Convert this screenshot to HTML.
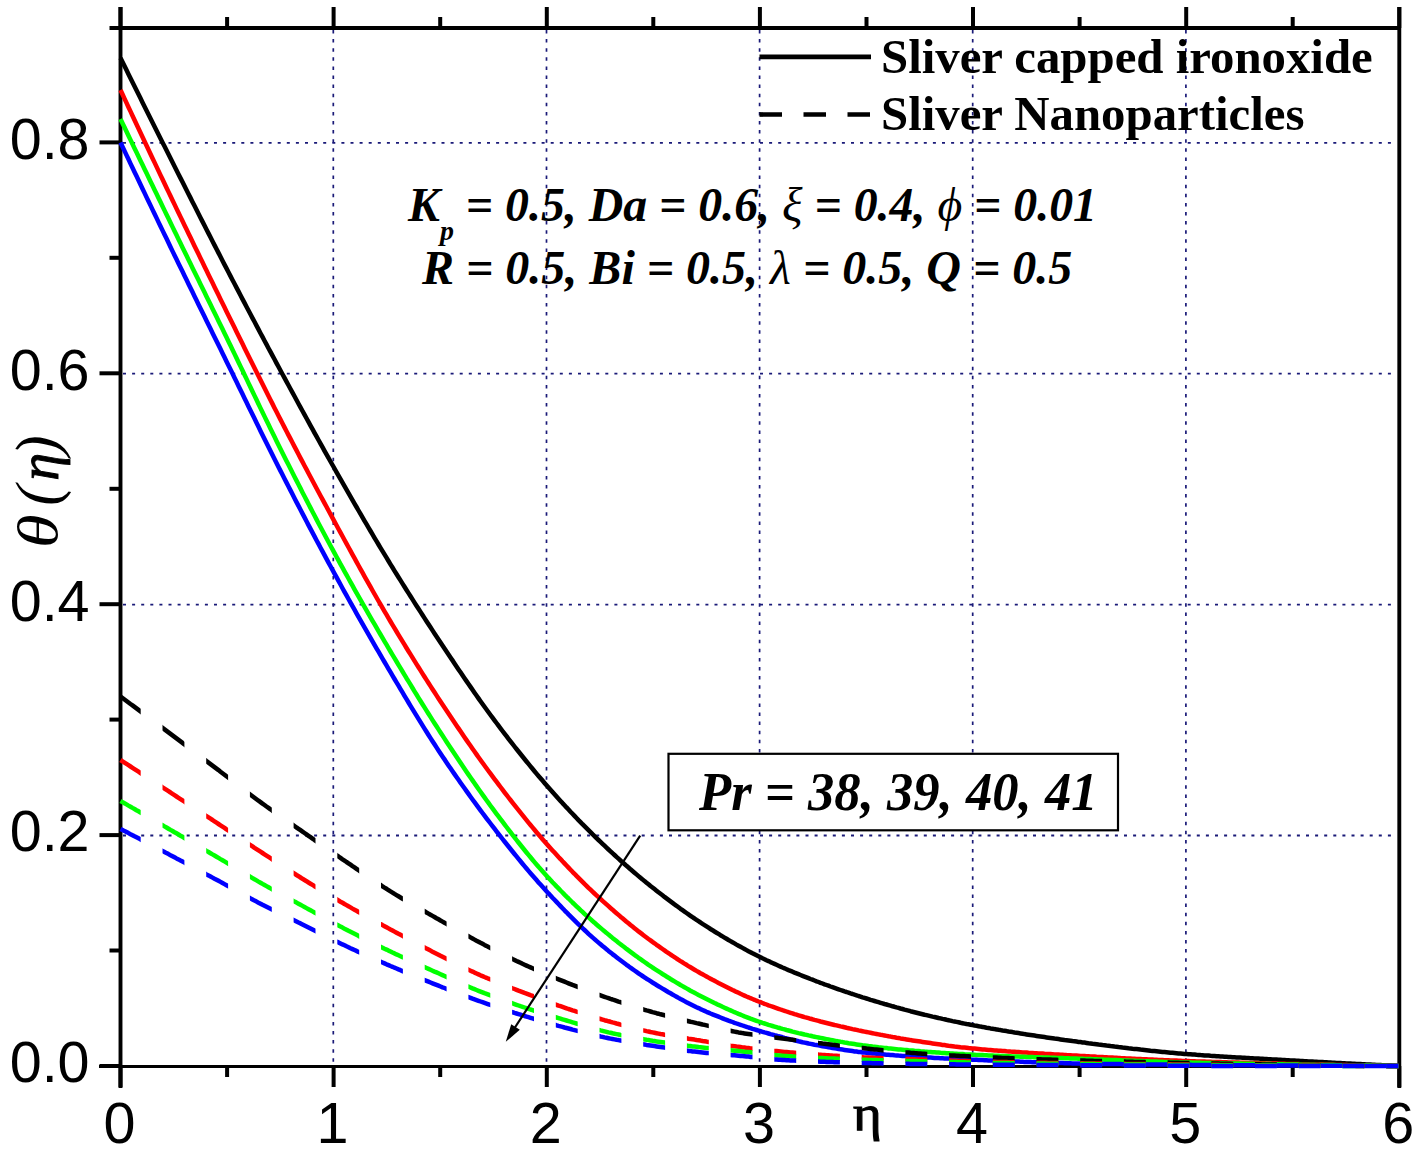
<!DOCTYPE html>
<html><head><meta charset="utf-8"><style>
html,body{margin:0;padding:0;background:#fff;}
svg{display:block;}
.sans{font-family:"Liberation Sans",sans-serif;}
.serif{font-family:"Liberation Serif",serif;}
</style></head><body>
<svg width="1426" height="1153" viewBox="0 0 1426 1153">
<rect width="1426" height="1153" fill="#fff"/>
<g stroke="#1a1a78" fill="none"><line x1="333.3" y1="30" x2="333.3" y2="1064" stroke-width="1.7" stroke-dasharray="3.5 5.6"/><line x1="546.5" y1="30" x2="546.5" y2="1064" stroke-width="1.7" stroke-dasharray="3.5 5.6"/><line x1="759.6" y1="30" x2="759.6" y2="1064" stroke-width="1.7" stroke-dasharray="3.5 5.6"/><line x1="972.7" y1="30" x2="972.7" y2="1064" stroke-width="1.7" stroke-dasharray="3.5 5.6"/><line x1="1185.9" y1="30" x2="1185.9" y2="1064" stroke-width="1.7" stroke-dasharray="3.5 5.6"/><line x1="123" y1="835.5" x2="1397" y2="835.5" stroke-width="1.8" stroke-dasharray="3 6.1"/><line x1="123" y1="604.6" x2="1397" y2="604.6" stroke-width="1.8" stroke-dasharray="3 6.1"/><line x1="123" y1="373.7" x2="1397" y2="373.7" stroke-width="1.8" stroke-dasharray="3 6.1"/><line x1="123" y1="142.8" x2="1397" y2="142.8" stroke-width="1.8" stroke-dasharray="3 6.1"/></g>
<g stroke="#000" stroke-width="3.9" fill="none">
<line x1="120.5" y1="28" x2="1399.3" y2="28"/>
<line x1="120.5" y1="7" x2="120.5" y2="1088"/>
<line x1="1399.3" y1="7" x2="1399.3" y2="1088"/>
</g>
<line x1="99" y1="1066.6" x2="1399.3" y2="1066.6" stroke="#000" stroke-width="3"/>
<g stroke="#000" stroke-width="4" fill="none">
<line x1="120.5" y1="1066.0" x2="120.5" y2="1087.0"/><line x1="120.5" y1="28" x2="120.5" y2="7"/><line x1="227.1" y1="1066.0" x2="227.1" y2="1077.0"/><line x1="227.1" y1="28" x2="227.1" y2="17"/><line x1="333.6" y1="1066.0" x2="333.6" y2="1087.0"/><line x1="333.6" y1="28" x2="333.6" y2="7"/><line x1="440.2" y1="1066.0" x2="440.2" y2="1077.0"/><line x1="440.2" y1="28" x2="440.2" y2="17"/><line x1="546.8" y1="1066.0" x2="546.8" y2="1087.0"/><line x1="546.8" y1="28" x2="546.8" y2="7"/><line x1="653.3" y1="1066.0" x2="653.3" y2="1077.0"/><line x1="653.3" y1="28" x2="653.3" y2="17"/><line x1="759.9" y1="1066.0" x2="759.9" y2="1087.0"/><line x1="759.9" y1="28" x2="759.9" y2="7"/><line x1="866.5" y1="1066.0" x2="866.5" y2="1077.0"/><line x1="866.5" y1="28" x2="866.5" y2="17"/><line x1="973.0" y1="1066.0" x2="973.0" y2="1087.0"/><line x1="973.0" y1="28" x2="973.0" y2="7"/><line x1="1079.6" y1="1066.0" x2="1079.6" y2="1077.0"/><line x1="1079.6" y1="28" x2="1079.6" y2="17"/><line x1="1186.2" y1="1066.0" x2="1186.2" y2="1087.0"/><line x1="1186.2" y1="28" x2="1186.2" y2="7"/><line x1="1292.7" y1="1066.0" x2="1292.7" y2="1077.0"/><line x1="1292.7" y1="28" x2="1292.7" y2="17"/><line x1="1399.3" y1="1066.0" x2="1399.3" y2="1087.0"/><line x1="1399.3" y1="28" x2="1399.3" y2="7"/><line x1="120.5" y1="1066.0" x2="99.5" y2="1066.0"/><line x1="120.5" y1="950.5" x2="109.5" y2="950.5"/><line x1="120.5" y1="835.1" x2="99.5" y2="835.1"/><line x1="120.5" y1="719.6" x2="109.5" y2="719.6"/><line x1="120.5" y1="604.2" x2="99.5" y2="604.2"/><line x1="120.5" y1="488.8" x2="109.5" y2="488.8"/><line x1="120.5" y1="373.3" x2="99.5" y2="373.3"/><line x1="120.5" y1="257.8" x2="109.5" y2="257.8"/><line x1="120.5" y1="142.4" x2="99.5" y2="142.4"/><line x1="120.5" y1="28.0" x2="109.5" y2="28.0"/>
</g>
<g fill="none" stroke-width="4.5" stroke-linejoin="round"><g stroke="#000000"><polyline points="120.5,58.0 122.5,62.0 124.5,66.1 126.5,70.1 128.5,74.2 130.5,78.2 132.5,82.2 134.5,86.3 136.5,90.3 138.5,94.3 140.5,98.3 142.5,102.4 144.5,106.4 146.5,110.4 148.5,114.4 150.5,118.4 152.5,122.4 154.5,126.4 156.5,130.4 158.5,134.4 160.5,138.4 162.5,142.4 164.5,146.3 166.5,150.3 168.5,154.3 170.5,158.3 172.5,162.3 174.5,166.2 176.5,170.2 178.5,174.2 180.5,178.1 182.5,182.1 184.5,186.1 186.5,190.0 188.5,194.0 190.5,197.9 192.5,201.9 194.5,205.8 196.5,209.8 198.5,213.7 200.5,217.7 202.5,221.6 204.5,225.6 206.5,229.5 208.5,233.4 210.5,237.3 212.5,241.2 214.5,245.1 216.5,249.0 218.5,252.9 220.5,256.8 222.5,260.7 224.5,264.6 226.5,268.4 228.5,272.3 230.5,276.1 232.5,280.0 234.5,283.8 236.5,287.6 238.5,291.4 240.5,295.3 242.5,299.1 244.5,302.9 246.5,306.7 248.5,310.5 250.5,314.3 252.5,318.1 254.5,321.8 256.5,325.6 258.5,329.4 260.5,333.2 262.5,336.9 264.5,340.7 266.5,344.4 268.5,348.2 270.5,351.9 272.5,355.6 274.5,359.3 276.5,363.1 278.5,366.8 280.5,370.5 282.5,374.2 284.5,377.9 286.5,381.6 288.5,385.3 290.5,389.0 292.5,392.6 294.5,396.3 296.5,400.0 298.5,403.7 300.5,407.3 302.5,411.0 304.5,414.6 306.5,418.3 308.5,421.9 310.5,425.6 312.5,429.2 314.5,432.8 316.5,436.4 318.5,440.0 320.5,443.6 322.5,447.2 324.5,450.8 326.5,454.4 328.5,457.9 330.5,461.5 332.5,465.0 334.5,468.5 336.5,472.1 338.5,475.6 340.5,479.1 342.5,482.6 344.5,486.1 346.5,489.6 348.5,493.1 350.5,496.6 352.5,500.1 354.5,503.6 356.5,507.0 358.5,510.5 360.5,513.9 362.5,517.4 364.5,520.8 366.5,524.2 368.5,527.6 370.5,531.0 372.5,534.4 374.5,537.8 376.5,541.1 378.5,544.5 380.5,547.8 382.5,551.1 384.5,554.4 386.5,557.7 388.5,561.0 390.5,564.3 392.5,567.5 394.5,570.8 396.5,574.0 398.5,577.2 400.5,580.4 402.5,583.6 404.5,586.8 406.5,590.0 408.5,593.1 410.5,596.3 412.5,599.4 414.5,602.6 416.5,605.7 418.5,608.8 420.5,611.9 422.5,615.0 424.5,618.1 426.5,621.2 428.5,624.3 430.5,627.3 432.5,630.4 434.5,633.4 436.5,636.4 438.5,639.4 440.5,642.5 442.5,645.5 444.5,648.5 446.5,651.5 448.5,654.5 450.5,657.5 452.5,660.4 454.5,663.4 456.5,666.4 458.5,669.4 460.5,672.3 462.5,675.3 464.5,678.2 466.5,681.1 468.5,684.0 470.5,686.9 472.5,689.8 474.5,692.7 476.5,695.5 478.5,698.4 480.5,701.2 482.5,704.0 484.5,706.8 486.5,709.5 488.5,712.3 490.5,715.0 492.5,717.7 494.5,720.4 496.5,723.0 498.5,725.7 500.5,728.3 502.5,731.0 504.5,733.6 506.5,736.2 508.5,738.8 510.5,741.4 512.5,743.9 514.5,746.5 516.5,749.0 518.5,751.5 520.5,754.0 522.5,756.5 524.5,759.0 526.5,761.5 528.5,763.9 530.5,766.4 532.5,768.8 534.5,771.2 536.5,773.6 538.5,775.9 540.5,778.3 542.5,780.6 544.5,782.9 546.5,785.2 548.5,787.5 550.5,789.7 552.5,792.0 554.5,794.2 556.5,796.5 558.5,798.7 560.5,800.9 562.5,803.1 564.5,805.2 566.5,807.4 568.5,809.5 570.5,811.7 572.5,813.8 574.5,815.9 576.5,818.0 578.5,820.1 580.5,822.1 582.5,824.2 584.5,826.2 586.5,828.2 588.5,830.2 590.5,832.2 592.5,834.2 594.5,836.1 596.5,838.1 598.5,840.0 600.5,841.9 602.5,843.8 604.5,845.7 606.5,847.6 608.5,849.5 610.5,851.3 612.5,853.2 614.5,855.0 616.5,856.9 618.5,858.7 620.5,860.5 622.5,862.3 624.5,864.0 626.5,865.8 628.5,867.5 630.5,869.3 632.5,871.0 634.5,872.7 636.5,874.4 638.5,876.1 640.5,877.8 642.5,879.4 644.5,881.1 646.5,882.7 648.5,884.3 650.5,886.0 652.5,887.5 654.5,889.1 656.5,890.7 658.5,892.3 660.5,893.8 662.5,895.3 664.5,896.9 666.5,898.4 668.5,899.9 670.5,901.4 672.5,902.9 674.5,904.4 676.5,905.8 678.5,907.3 680.5,908.8 682.5,910.2 684.5,911.6 686.5,913.0 688.5,914.4 690.5,915.8 692.5,917.2 694.5,918.5 696.5,919.9 698.5,921.2 700.5,922.5 702.5,923.9 704.5,925.1 706.5,926.4 708.5,927.7 710.5,929.0 712.5,930.2 714.5,931.5 716.5,932.7 718.5,933.9 720.5,935.2 722.5,936.4 724.5,937.6 726.5,938.8 728.5,940.0 730.5,941.1 732.5,942.3 734.5,943.4 736.5,944.6 738.5,945.7 740.5,946.8 742.5,947.9 744.5,949.0 746.5,950.1 748.5,951.2 750.5,952.2 752.5,953.3 754.5,954.3 756.5,955.3 758.5,956.3 760.5,957.3 762.5,958.3 764.5,959.2 766.5,960.2 768.5,961.1 770.5,962.1 772.5,963.0 774.5,963.9 776.5,964.8 778.5,965.7 780.5,966.6 782.5,967.5 784.5,968.3 786.5,969.2 788.5,970.1 790.5,970.9 792.5,971.7 794.5,972.6 796.5,973.4 798.5,974.2 800.5,975.0 802.5,975.8 804.5,976.6 806.5,977.4 808.5,978.2 810.5,979.0 812.5,979.7 814.5,980.5 816.5,981.3 818.5,982.0 820.5,982.8 822.5,983.5 824.5,984.3 826.5,985.0 828.5,985.7 830.5,986.5 832.5,987.2 834.5,987.9 836.5,988.6 838.5,989.3 840.5,990.0 842.5,990.7 844.5,991.4 846.5,992.0 848.5,992.7 850.5,993.4 852.5,994.0 854.5,994.7 856.5,995.3 858.5,996.0 860.5,996.6 862.5,997.3 864.5,997.9 866.5,998.5 868.5,999.1 870.5,999.8 872.5,1000.4 874.5,1001.0 876.5,1001.6 878.5,1002.2 880.5,1002.8 882.5,1003.4 884.5,1004.0 886.5,1004.5 888.5,1005.1 890.5,1005.7 892.5,1006.3 894.5,1006.8 896.5,1007.4 898.5,1007.9 900.5,1008.5 902.5,1009.0 904.5,1009.6 906.5,1010.1 908.5,1010.6 910.5,1011.2 912.5,1011.7 914.5,1012.2 916.5,1012.7 918.5,1013.2 920.5,1013.7 922.5,1014.2 924.5,1014.7 926.5,1015.1 928.5,1015.6 930.5,1016.1 932.5,1016.6 934.5,1017.0 936.5,1017.5 938.5,1018.0 940.5,1018.4 942.5,1018.9 944.5,1019.3 946.5,1019.8 948.5,1020.2 950.5,1020.6 952.5,1021.1 954.5,1021.5 956.5,1021.9 958.5,1022.3 960.5,1022.8 962.5,1023.2 964.5,1023.6 966.5,1024.0 968.5,1024.3 970.5,1024.7 972.5,1025.1 974.5,1025.5 976.5,1025.8 978.5,1026.2 980.5,1026.6 982.5,1026.9 984.5,1027.3 986.5,1027.7 988.5,1028.0 990.5,1028.4 992.5,1028.7 994.5,1029.1 996.5,1029.4 998.5,1029.8 1000.5,1030.1 1002.5,1030.5 1004.5,1030.8 1006.5,1031.1 1008.5,1031.5 1010.5,1031.8 1012.5,1032.1 1014.5,1032.5 1016.5,1032.8 1018.5,1033.1 1020.5,1033.4 1022.5,1033.7 1024.5,1034.1 1026.5,1034.4 1028.5,1034.7 1030.5,1035.0 1032.5,1035.3 1034.5,1035.6 1036.5,1035.9 1038.5,1036.2 1040.5,1036.5 1042.5,1036.8 1044.5,1037.1 1046.5,1037.4 1048.5,1037.7 1050.5,1038.0 1052.5,1038.3 1054.5,1038.6 1056.5,1038.8 1058.5,1039.1 1060.5,1039.4 1062.5,1039.7 1064.5,1040.0 1066.5,1040.2 1068.5,1040.5 1070.5,1040.8 1072.5,1041.1 1074.5,1041.3 1076.5,1041.6 1078.5,1041.9 1080.5,1042.1 1082.5,1042.4 1084.5,1042.6 1086.5,1042.9 1088.5,1043.2 1090.5,1043.4 1092.5,1043.7 1094.5,1043.9 1096.5,1044.2 1098.5,1044.5 1100.5,1044.7 1102.5,1045.0 1104.5,1045.2 1106.5,1045.5 1108.5,1045.7 1110.5,1046.0 1112.5,1046.2 1114.5,1046.5 1116.5,1046.7 1118.5,1047.0 1120.5,1047.2 1122.5,1047.5 1124.5,1047.7 1126.5,1047.9 1128.5,1048.2 1130.5,1048.4 1132.5,1048.7 1134.5,1048.9 1136.5,1049.1 1138.5,1049.3 1140.5,1049.6 1142.5,1049.8 1144.5,1050.0 1146.5,1050.2 1148.5,1050.4 1150.5,1050.7 1152.5,1050.9 1154.5,1051.1 1156.5,1051.3 1158.5,1051.5 1160.5,1051.7 1162.5,1051.9 1164.5,1052.1 1166.5,1052.3 1168.5,1052.5 1170.5,1052.7 1172.5,1052.8 1174.5,1053.0 1176.5,1053.2 1178.5,1053.4 1180.5,1053.5 1182.5,1053.7 1184.5,1053.9 1186.5,1054.0 1188.5,1054.2 1190.5,1054.3 1192.5,1054.5 1194.5,1054.6 1196.5,1054.8 1198.5,1054.9 1200.5,1055.1 1202.5,1055.2 1204.5,1055.4 1206.5,1055.5 1208.5,1055.6 1210.5,1055.8 1212.5,1055.9 1214.5,1056.0 1216.5,1056.2 1218.5,1056.3 1220.5,1056.4 1222.5,1056.5 1224.5,1056.7 1226.5,1056.8 1228.5,1056.9 1230.5,1057.0 1232.5,1057.2 1234.5,1057.3 1236.5,1057.4 1238.5,1057.5 1240.5,1057.6 1242.5,1057.7 1244.5,1057.8 1246.5,1058.0 1248.5,1058.1 1250.5,1058.2 1252.5,1058.3 1254.5,1058.4 1256.5,1058.5 1258.5,1058.6 1260.5,1058.7 1262.5,1058.8 1264.5,1059.0 1266.5,1059.1 1268.5,1059.2 1270.5,1059.3 1272.5,1059.4 1274.5,1059.5 1276.5,1059.6 1278.5,1059.7 1280.5,1059.8 1282.5,1059.9 1284.5,1060.0 1286.5,1060.2 1288.5,1060.3 1290.5,1060.4 1292.5,1060.5 1294.5,1060.6 1296.5,1060.7 1298.5,1060.8 1300.5,1060.9 1302.5,1061.0 1304.5,1061.2 1306.5,1061.3 1308.5,1061.4 1310.5,1061.5 1312.5,1061.6 1314.5,1061.7 1316.5,1061.8 1318.5,1061.9 1320.5,1062.0 1322.5,1062.1 1324.5,1062.2 1326.5,1062.3 1328.5,1062.5 1330.5,1062.6 1332.5,1062.7 1334.5,1062.8 1336.5,1062.9 1338.5,1063.0 1340.5,1063.1 1342.5,1063.2 1344.5,1063.3 1346.5,1063.4 1348.5,1063.5 1350.5,1063.6 1352.5,1063.7 1354.5,1063.8 1356.5,1063.9 1358.5,1064.0 1360.5,1064.1 1362.5,1064.2 1364.5,1064.3 1366.5,1064.4 1368.5,1064.5 1370.5,1064.6 1372.5,1064.7 1374.5,1064.8 1376.5,1064.9 1378.5,1065.0 1380.5,1065.1 1382.5,1065.2 1384.5,1065.3 1386.5,1065.4 1388.5,1065.5 1390.5,1065.6 1392.5,1065.7 1394.5,1065.8 1396.5,1065.9 1398.5,1066.0"/></g><g stroke="#ff0000"><polyline points="120.5,90.0 122.5,94.3 124.5,98.6 126.5,102.9 128.5,107.2 130.5,111.4 132.5,115.7 134.5,120.0 136.5,124.3 138.5,128.5 140.5,132.8 142.5,137.0 144.5,141.3 146.5,145.5 148.5,149.7 150.5,154.0 152.5,158.2 154.5,162.4 156.5,166.6 158.5,170.9 160.5,175.1 162.5,179.3 164.5,183.5 166.5,187.7 168.5,191.9 170.5,196.0 172.5,200.2 174.5,204.4 176.5,208.6 178.5,212.7 180.5,216.9 182.5,221.0 184.5,225.2 186.5,229.3 188.5,233.5 190.5,237.6 192.5,241.8 194.5,245.9 196.5,250.0 198.5,254.1 200.5,258.2 202.5,262.3 204.5,266.5 206.5,270.6 208.5,274.7 210.5,278.7 212.5,282.8 214.5,286.9 216.5,291.0 218.5,295.1 220.5,299.2 222.5,303.2 224.5,307.3 226.5,311.4 228.5,315.4 230.5,319.5 232.5,323.5 234.5,327.6 236.5,331.7 238.5,335.7 240.5,339.8 242.5,343.8 244.5,347.9 246.5,351.9 248.5,356.0 250.5,360.0 252.5,364.0 254.5,368.1 256.5,372.1 258.5,376.1 260.5,380.1 262.5,384.1 264.5,388.1 266.5,392.1 268.5,396.0 270.5,400.0 272.5,403.9 274.5,407.9 276.5,411.8 278.5,415.7 280.5,419.6 282.5,423.5 284.5,427.4 286.5,431.2 288.5,435.1 290.5,438.9 292.5,442.8 294.5,446.6 296.5,450.4 298.5,454.3 300.5,458.1 302.5,461.9 304.5,465.7 306.5,469.4 308.5,473.2 310.5,477.0 312.5,480.7 314.5,484.5 316.5,488.2 318.5,492.0 320.5,495.7 322.5,499.4 324.5,503.1 326.5,506.8 328.5,510.5 330.5,514.2 332.5,517.9 334.5,521.6 336.5,525.3 338.5,529.0 340.5,532.6 342.5,536.3 344.5,540.0 346.5,543.6 348.5,547.3 350.5,550.9 352.5,554.6 354.5,558.2 356.5,561.9 358.5,565.5 360.5,569.1 362.5,572.7 364.5,576.3 366.5,579.8 368.5,583.4 370.5,586.9 372.5,590.5 374.5,594.0 376.5,597.5 378.5,601.0 380.5,604.4 382.5,607.9 384.5,611.3 386.5,614.7 388.5,618.1 390.5,621.5 392.5,624.8 394.5,628.2 396.5,631.5 398.5,634.8 400.5,638.1 402.5,641.4 404.5,644.7 406.5,648.0 408.5,651.2 410.5,654.4 412.5,657.7 414.5,660.9 416.5,664.1 418.5,667.3 420.5,670.4 422.5,673.6 424.5,676.8 426.5,679.9 428.5,683.0 430.5,686.1 432.5,689.2 434.5,692.3 436.5,695.4 438.5,698.4 440.5,701.5 442.5,704.5 444.5,707.5 446.5,710.5 448.5,713.5 450.5,716.5 452.5,719.5 454.5,722.5 456.5,725.5 458.5,728.4 460.5,731.3 462.5,734.3 464.5,737.2 466.5,740.1 468.5,743.0 470.5,745.8 472.5,748.7 474.5,751.5 476.5,754.4 478.5,757.2 480.5,760.0 482.5,762.8 484.5,765.5 486.5,768.3 488.5,771.0 490.5,773.7 492.5,776.4 494.5,779.1 496.5,781.7 498.5,784.4 500.5,787.0 502.5,789.6 504.5,792.3 506.5,794.9 508.5,797.5 510.5,800.0 512.5,802.6 514.5,805.2 516.5,807.7 518.5,810.2 520.5,812.7 522.5,815.2 524.5,817.7 526.5,820.2 528.5,822.6 530.5,825.0 532.5,827.4 534.5,829.8 536.5,832.2 538.5,834.5 540.5,836.9 542.5,839.2 544.5,841.4 546.5,843.7 548.5,846.0 550.5,848.2 552.5,850.4 554.5,852.6 556.5,854.8 558.5,857.0 560.5,859.1 562.5,861.3 564.5,863.4 566.5,865.5 568.5,867.6 570.5,869.7 572.5,871.8 574.5,873.8 576.5,875.9 578.5,877.9 580.5,879.9 582.5,881.9 584.5,883.9 586.5,885.8 588.5,887.8 590.5,889.7 592.5,891.6 594.5,893.5 596.5,895.3 598.5,897.2 600.5,899.0 602.5,900.8 604.5,902.6 606.5,904.4 608.5,906.2 610.5,908.0 612.5,909.7 614.5,911.5 616.5,913.2 618.5,914.9 620.5,916.7 622.5,918.3 624.5,920.0 626.5,921.7 628.5,923.3 630.5,925.0 632.5,926.6 634.5,928.2 636.5,929.8 638.5,931.4 640.5,932.9 642.5,934.4 644.5,936.0 646.5,937.5 648.5,939.0 650.5,940.4 652.5,941.9 654.5,943.3 656.5,944.8 658.5,946.2 660.5,947.6 662.5,949.0 664.5,950.4 666.5,951.8 668.5,953.1 670.5,954.5 672.5,955.8 674.5,957.1 676.5,958.5 678.5,959.8 680.5,961.1 682.5,962.3 684.5,963.6 686.5,964.8 688.5,966.1 690.5,967.3 692.5,968.5 694.5,969.7 696.5,970.9 698.5,972.0 700.5,973.2 702.5,974.3 704.5,975.4 706.5,976.5 708.5,977.6 710.5,978.7 712.5,979.8 714.5,980.8 716.5,981.9 718.5,983.0 720.5,984.0 722.5,985.0 724.5,986.0 726.5,987.0 728.5,988.0 730.5,989.0 732.5,990.0 734.5,990.9 736.5,991.9 738.5,992.8 740.5,993.8 742.5,994.7 744.5,995.6 746.5,996.5 748.5,997.3 750.5,998.2 752.5,999.0 754.5,999.8 756.5,1000.7 758.5,1001.5 760.5,1002.2 762.5,1003.0 764.5,1003.8 766.5,1004.5 768.5,1005.3 770.5,1006.0 772.5,1006.7 774.5,1007.4 776.5,1008.1 778.5,1008.8 780.5,1009.5 782.5,1010.2 784.5,1010.8 786.5,1011.5 788.5,1012.2 790.5,1012.8 792.5,1013.4 794.5,1014.1 796.5,1014.7 798.5,1015.3 800.5,1015.9 802.5,1016.5 804.5,1017.1 806.5,1017.6 808.5,1018.2 810.5,1018.8 812.5,1019.3 814.5,1019.9 816.5,1020.4 818.5,1020.9 820.5,1021.5 822.5,1022.0 824.5,1022.5 826.5,1023.0 828.5,1023.5 830.5,1024.0 832.5,1024.5 834.5,1025.0 836.5,1025.4 838.5,1025.9 840.5,1026.4 842.5,1026.8 844.5,1027.3 846.5,1027.8 848.5,1028.2 850.5,1028.6 852.5,1029.1 854.5,1029.5 856.5,1029.9 858.5,1030.4 860.5,1030.8 862.5,1031.2 864.5,1031.6 866.5,1032.0 868.5,1032.4 870.5,1032.8 872.5,1033.2 874.5,1033.6 876.5,1034.0 878.5,1034.4 880.5,1034.8 882.5,1035.1 884.5,1035.5 886.5,1035.9 888.5,1036.3 890.5,1036.6 892.5,1037.0 894.5,1037.3 896.5,1037.7 898.5,1038.0 900.5,1038.4 902.5,1038.7 904.5,1039.1 906.5,1039.4 908.5,1039.7 910.5,1040.1 912.5,1040.4 914.5,1040.7 916.5,1041.0 918.5,1041.3 920.5,1041.6 922.5,1041.9 924.5,1042.2 926.5,1042.5 928.5,1042.8 930.5,1043.1 932.5,1043.4 934.5,1043.7 936.5,1044.0 938.5,1044.3 940.5,1044.6 942.5,1044.9 944.5,1045.1 946.5,1045.4 948.5,1045.7 950.5,1045.9 952.5,1046.2 954.5,1046.5 956.5,1046.7 958.5,1046.9 960.5,1047.2 962.5,1047.4 964.5,1047.6 966.5,1047.8 968.5,1048.1 970.5,1048.3 972.5,1048.5 974.5,1048.6 976.5,1048.8 978.5,1049.0 980.5,1049.2 982.5,1049.4 984.5,1049.5 986.5,1049.7 988.5,1049.9 990.5,1050.0 992.5,1050.2 994.5,1050.4 996.5,1050.5 998.5,1050.7 1000.5,1050.8 1002.5,1051.0 1004.5,1051.1 1006.5,1051.3 1008.5,1051.4 1010.5,1051.6 1012.5,1051.7 1014.5,1051.8 1016.5,1052.0 1018.5,1052.1 1020.5,1052.2 1022.5,1052.4 1024.5,1052.5 1026.5,1052.6 1028.5,1052.8 1030.5,1052.9 1032.5,1053.0 1034.5,1053.2 1036.5,1053.3 1038.5,1053.4 1040.5,1053.5 1042.5,1053.6 1044.5,1053.8 1046.5,1053.9 1048.5,1054.0 1050.5,1054.1 1052.5,1054.2 1054.5,1054.4 1056.5,1054.5 1058.5,1054.6 1060.5,1054.7 1062.5,1054.8 1064.5,1054.9 1066.5,1055.1 1068.5,1055.2 1070.5,1055.3 1072.5,1055.4 1074.5,1055.5 1076.5,1055.6 1078.5,1055.7 1080.5,1055.9 1082.5,1056.0 1084.5,1056.1 1086.5,1056.2 1088.5,1056.3 1090.5,1056.4 1092.5,1056.5 1094.5,1056.6 1096.5,1056.8 1098.5,1056.9 1100.5,1057.0 1102.5,1057.1 1104.5,1057.2 1106.5,1057.3 1108.5,1057.4 1110.5,1057.5 1112.5,1057.6 1114.5,1057.7 1116.5,1057.8 1118.5,1057.9 1120.5,1058.1 1122.5,1058.2 1124.5,1058.3 1126.5,1058.4 1128.5,1058.5 1130.5,1058.6 1132.5,1058.7 1134.5,1058.8 1136.5,1058.9 1138.5,1059.0 1140.5,1059.1 1142.5,1059.2 1144.5,1059.3 1146.5,1059.3 1148.5,1059.4 1150.5,1059.5 1152.5,1059.6 1154.5,1059.7 1156.5,1059.8 1158.5,1059.9 1160.5,1060.0 1162.5,1060.1 1164.5,1060.2 1166.5,1060.2 1168.5,1060.3 1170.5,1060.4 1172.5,1060.5 1174.5,1060.6 1176.5,1060.6 1178.5,1060.7 1180.5,1060.8 1182.5,1060.9 1184.5,1060.9 1186.5,1061.0 1188.5,1061.1 1190.5,1061.2 1192.5,1061.2 1194.5,1061.3 1196.5,1061.4 1198.5,1061.4 1200.5,1061.5 1202.5,1061.6 1204.5,1061.6 1206.5,1061.7 1208.5,1061.8 1210.5,1061.8 1212.5,1061.9 1214.5,1061.9 1216.5,1062.0 1218.5,1062.1 1220.5,1062.1 1222.5,1062.2 1224.5,1062.2 1226.5,1062.3 1228.5,1062.4 1230.5,1062.4 1232.5,1062.5 1234.5,1062.5 1236.5,1062.6 1238.5,1062.6 1240.5,1062.7 1242.5,1062.8 1244.5,1062.8 1246.5,1062.9 1248.5,1062.9 1250.5,1063.0 1252.5,1063.0 1254.5,1063.1 1256.5,1063.1 1258.5,1063.2 1260.5,1063.2 1262.5,1063.3 1264.5,1063.3 1266.5,1063.4 1268.5,1063.4 1270.5,1063.5 1272.5,1063.5 1274.5,1063.6 1276.5,1063.6 1278.5,1063.7 1280.5,1063.7 1282.5,1063.8 1284.5,1063.8 1286.5,1063.9 1288.5,1063.9 1290.5,1063.9 1292.5,1064.0 1294.5,1064.0 1296.5,1064.1 1298.5,1064.1 1300.5,1064.2 1302.5,1064.2 1304.5,1064.3 1306.5,1064.3 1308.5,1064.3 1310.5,1064.4 1312.5,1064.4 1314.5,1064.5 1316.5,1064.5 1318.5,1064.6 1320.5,1064.6 1322.5,1064.6 1324.5,1064.7 1326.5,1064.7 1328.5,1064.8 1330.5,1064.8 1332.5,1064.8 1334.5,1064.9 1336.5,1064.9 1338.5,1065.0 1340.5,1065.0 1342.5,1065.0 1344.5,1065.1 1346.5,1065.1 1348.5,1065.2 1350.5,1065.2 1352.5,1065.2 1354.5,1065.3 1356.5,1065.3 1358.5,1065.3 1360.5,1065.4 1362.5,1065.4 1364.5,1065.5 1366.5,1065.5 1368.5,1065.5 1370.5,1065.6 1372.5,1065.6 1374.5,1065.6 1376.5,1065.7 1378.5,1065.7 1380.5,1065.7 1382.5,1065.7 1384.5,1065.8 1386.5,1065.8 1388.5,1065.8 1390.5,1065.9 1392.5,1065.9 1394.5,1065.9 1396.5,1066.0 1398.5,1066.0"/></g><g stroke="#00ff00"><polyline points="120.5,119.0 122.5,123.2 124.5,127.3 126.5,131.5 128.5,135.7 130.5,139.9 132.5,144.0 134.5,148.2 136.5,152.3 138.5,156.5 140.5,160.7 142.5,164.8 144.5,169.0 146.5,173.1 148.5,177.3 150.5,181.4 152.5,185.5 154.5,189.7 156.5,193.8 158.5,198.0 160.5,202.1 162.5,206.2 164.5,210.4 166.5,214.5 168.5,218.6 170.5,222.7 172.5,226.9 174.5,231.0 176.5,235.1 178.5,239.2 180.5,243.3 182.5,247.4 184.5,251.5 186.5,255.6 188.5,259.7 190.5,263.8 192.5,267.9 194.5,271.9 196.5,276.0 198.5,280.1 200.5,284.2 202.5,288.3 204.5,292.3 206.5,296.4 208.5,300.5 210.5,304.6 212.5,308.7 214.5,312.8 216.5,316.8 218.5,320.9 220.5,325.0 222.5,329.1 224.5,333.2 226.5,337.3 228.5,341.5 230.5,345.6 232.5,349.7 234.5,353.9 236.5,358.0 238.5,362.2 240.5,366.4 242.5,370.5 244.5,374.7 246.5,378.9 248.5,383.1 250.5,387.3 252.5,391.4 254.5,395.6 256.5,399.8 258.5,403.9 260.5,408.1 262.5,412.2 264.5,416.4 266.5,420.5 268.5,424.6 270.5,428.7 272.5,432.8 274.5,436.8 276.5,440.9 278.5,444.9 280.5,448.9 282.5,452.9 284.5,456.9 286.5,460.9 288.5,464.8 290.5,468.8 292.5,472.7 294.5,476.7 296.5,480.6 298.5,484.5 300.5,488.4 302.5,492.4 304.5,496.2 306.5,500.1 308.5,504.0 310.5,507.9 312.5,511.7 314.5,515.5 316.5,519.4 318.5,523.2 320.5,527.0 322.5,530.7 324.5,534.5 326.5,538.3 328.5,542.0 330.5,545.7 332.5,549.4 334.5,553.1 336.5,556.8 338.5,560.4 340.5,564.1 342.5,567.7 344.5,571.3 346.5,574.9 348.5,578.5 350.5,582.1 352.5,585.7 354.5,589.3 356.5,592.8 358.5,596.3 360.5,599.9 362.5,603.4 364.5,606.9 366.5,610.4 368.5,613.8 370.5,617.3 372.5,620.8 374.5,624.2 376.5,627.7 378.5,631.1 380.5,634.5 382.5,637.9 384.5,641.3 386.5,644.7 388.5,648.1 390.5,651.5 392.5,654.8 394.5,658.2 396.5,661.5 398.5,664.9 400.5,668.2 402.5,671.5 404.5,674.8 406.5,678.2 408.5,681.4 410.5,684.7 412.5,688.0 414.5,691.3 416.5,694.5 418.5,697.8 420.5,701.0 422.5,704.2 424.5,707.4 426.5,710.6 428.5,713.8 430.5,716.9 432.5,720.1 434.5,723.2 436.5,726.3 438.5,729.4 440.5,732.5 442.5,735.5 444.5,738.6 446.5,741.7 448.5,744.7 450.5,747.7 452.5,750.8 454.5,753.8 456.5,756.8 458.5,759.8 460.5,762.8 462.5,765.7 464.5,768.7 466.5,771.7 468.5,774.6 470.5,777.5 472.5,780.4 474.5,783.3 476.5,786.1 478.5,789.0 480.5,791.8 482.5,794.6 484.5,797.4 486.5,800.2 488.5,802.9 490.5,805.7 492.5,808.4 494.5,811.1 496.5,813.8 498.5,816.4 500.5,819.1 502.5,821.7 504.5,824.4 506.5,827.0 508.5,829.6 510.5,832.2 512.5,834.8 514.5,837.4 516.5,840.0 518.5,842.5 520.5,845.0 522.5,847.5 524.5,850.0 526.5,852.5 528.5,854.9 530.5,857.3 532.5,859.7 534.5,862.1 536.5,864.4 538.5,866.8 540.5,869.0 542.5,871.3 544.5,873.5 546.5,875.7 548.5,877.9 550.5,880.0 552.5,882.2 554.5,884.3 556.5,886.4 558.5,888.4 560.5,890.5 562.5,892.5 564.5,894.6 566.5,896.6 568.5,898.5 570.5,900.5 572.5,902.5 574.5,904.4 576.5,906.3 578.5,908.2 580.5,910.1 582.5,911.9 584.5,913.8 586.5,915.6 588.5,917.4 590.5,919.2 592.5,921.0 594.5,922.7 596.5,924.5 598.5,926.2 600.5,927.9 602.5,929.6 604.5,931.3 606.5,932.9 608.5,934.6 610.5,936.2 612.5,937.9 614.5,939.5 616.5,941.1 618.5,942.7 620.5,944.2 622.5,945.8 624.5,947.3 626.5,948.9 628.5,950.4 630.5,951.9 632.5,953.4 634.5,954.9 636.5,956.3 638.5,957.8 640.5,959.2 642.5,960.6 644.5,962.0 646.5,963.4 648.5,964.8 650.5,966.1 652.5,967.5 654.5,968.8 656.5,970.1 658.5,971.4 660.5,972.7 662.5,974.0 664.5,975.2 666.5,976.5 668.5,977.7 670.5,979.0 672.5,980.2 674.5,981.4 676.5,982.6 678.5,983.8 680.5,985.0 682.5,986.1 684.5,987.3 686.5,988.4 688.5,989.5 690.5,990.7 692.5,991.8 694.5,992.8 696.5,993.9 698.5,995.0 700.5,996.0 702.5,997.0 704.5,998.0 706.5,999.0 708.5,1000.0 710.5,1001.0 712.5,1002.0 714.5,1003.0 716.5,1003.9 718.5,1004.9 720.5,1005.8 722.5,1006.8 724.5,1007.7 726.5,1008.6 728.5,1009.5 730.5,1010.4 732.5,1011.3 734.5,1012.2 736.5,1013.0 738.5,1013.9 740.5,1014.7 742.5,1015.5 744.5,1016.4 746.5,1017.1 748.5,1017.9 750.5,1018.7 752.5,1019.4 754.5,1020.1 756.5,1020.8 758.5,1021.5 760.5,1022.2 762.5,1022.9 764.5,1023.5 766.5,1024.1 768.5,1024.8 770.5,1025.4 772.5,1026.0 774.5,1026.6 776.5,1027.2 778.5,1027.8 780.5,1028.3 782.5,1028.9 784.5,1029.4 786.5,1030.0 788.5,1030.5 790.5,1031.0 792.5,1031.6 794.5,1032.1 796.5,1032.6 798.5,1033.1 800.5,1033.5 802.5,1034.0 804.5,1034.5 806.5,1034.9 808.5,1035.4 810.5,1035.8 812.5,1036.3 814.5,1036.7 816.5,1037.1 818.5,1037.5 820.5,1037.9 822.5,1038.3 824.5,1038.7 826.5,1039.1 828.5,1039.5 830.5,1039.9 832.5,1040.3 834.5,1040.7 836.5,1041.1 838.5,1041.4 840.5,1041.8 842.5,1042.1 844.5,1042.5 846.5,1042.8 848.5,1043.2 850.5,1043.5 852.5,1043.8 854.5,1044.1 856.5,1044.4 858.5,1044.7 860.5,1045.0 862.5,1045.3 864.5,1045.5 866.5,1045.8 868.5,1046.1 870.5,1046.3 872.5,1046.6 874.5,1046.8 876.5,1047.0 878.5,1047.3 880.5,1047.5 882.5,1047.7 884.5,1047.9 886.5,1048.1 888.5,1048.4 890.5,1048.6 892.5,1048.8 894.5,1049.0 896.5,1049.2 898.5,1049.4 900.5,1049.5 902.5,1049.7 904.5,1049.9 906.5,1050.1 908.5,1050.3 910.5,1050.4 912.5,1050.6 914.5,1050.8 916.5,1050.9 918.5,1051.1 920.5,1051.3 922.5,1051.4 924.5,1051.6 926.5,1051.7 928.5,1051.9 930.5,1052.0 932.5,1052.2 934.5,1052.3 936.5,1052.5 938.5,1052.6 940.5,1052.8 942.5,1052.9 944.5,1053.0 946.5,1053.2 948.5,1053.3 950.5,1053.4 952.5,1053.5 954.5,1053.7 956.5,1053.8 958.5,1053.9 960.5,1054.0 962.5,1054.1 964.5,1054.3 966.5,1054.4 968.5,1054.5 970.5,1054.6 972.5,1054.7 974.5,1054.8 976.5,1054.9 978.5,1055.0 980.5,1055.1 982.5,1055.1 984.5,1055.2 986.5,1055.3 988.5,1055.4 990.5,1055.5 992.5,1055.6 994.5,1055.7 996.5,1055.8 998.5,1055.8 1000.5,1055.9 1002.5,1056.0 1004.5,1056.1 1006.5,1056.1 1008.5,1056.2 1010.5,1056.3 1012.5,1056.4 1014.5,1056.4 1016.5,1056.5 1018.5,1056.6 1020.5,1056.7 1022.5,1056.7 1024.5,1056.8 1026.5,1056.9 1028.5,1056.9 1030.5,1057.0 1032.5,1057.1 1034.5,1057.2 1036.5,1057.2 1038.5,1057.3 1040.5,1057.4 1042.5,1057.4 1044.5,1057.5 1046.5,1057.6 1048.5,1057.6 1050.5,1057.7 1052.5,1057.8 1054.5,1057.8 1056.5,1057.9 1058.5,1058.0 1060.5,1058.0 1062.5,1058.1 1064.5,1058.2 1066.5,1058.2 1068.5,1058.3 1070.5,1058.4 1072.5,1058.4 1074.5,1058.5 1076.5,1058.6 1078.5,1058.7 1080.5,1058.7 1082.5,1058.8 1084.5,1058.9 1086.5,1059.0 1088.5,1059.0 1090.5,1059.1 1092.5,1059.2 1094.5,1059.3 1096.5,1059.3 1098.5,1059.4 1100.5,1059.5 1102.5,1059.6 1104.5,1059.7 1106.5,1059.7 1108.5,1059.8 1110.5,1059.9 1112.5,1060.0 1114.5,1060.0 1116.5,1060.1 1118.5,1060.2 1120.5,1060.3 1122.5,1060.4 1124.5,1060.4 1126.5,1060.5 1128.5,1060.6 1130.5,1060.7 1132.5,1060.7 1134.5,1060.8 1136.5,1060.9 1138.5,1061.0 1140.5,1061.0 1142.5,1061.1 1144.5,1061.2 1146.5,1061.3 1148.5,1061.3 1150.5,1061.4 1152.5,1061.5 1154.5,1061.6 1156.5,1061.6 1158.5,1061.7 1160.5,1061.8 1162.5,1061.8 1164.5,1061.9 1166.5,1061.9 1168.5,1062.0 1170.5,1062.1 1172.5,1062.1 1174.5,1062.2 1176.5,1062.2 1178.5,1062.3 1180.5,1062.4 1182.5,1062.4 1184.5,1062.5 1186.5,1062.5 1188.5,1062.6 1190.5,1062.6 1192.5,1062.7 1194.5,1062.7 1196.5,1062.7 1198.5,1062.8 1200.5,1062.8 1202.5,1062.9 1204.5,1062.9 1206.5,1063.0 1208.5,1063.0 1210.5,1063.1 1212.5,1063.1 1214.5,1063.1 1216.5,1063.2 1218.5,1063.2 1220.5,1063.3 1222.5,1063.3 1224.5,1063.3 1226.5,1063.4 1228.5,1063.4 1230.5,1063.4 1232.5,1063.5 1234.5,1063.5 1236.5,1063.6 1238.5,1063.6 1240.5,1063.6 1242.5,1063.7 1244.5,1063.7 1246.5,1063.7 1248.5,1063.8 1250.5,1063.8 1252.5,1063.8 1254.5,1063.9 1256.5,1063.9 1258.5,1063.9 1260.5,1064.0 1262.5,1064.0 1264.5,1064.0 1266.5,1064.1 1268.5,1064.1 1270.5,1064.1 1272.5,1064.2 1274.5,1064.2 1276.5,1064.2 1278.5,1064.3 1280.5,1064.3 1282.5,1064.3 1284.5,1064.4 1286.5,1064.4 1288.5,1064.4 1290.5,1064.5 1292.5,1064.5 1294.5,1064.5 1296.5,1064.6 1298.5,1064.6 1300.5,1064.6 1302.5,1064.7 1304.5,1064.7 1306.5,1064.7 1308.5,1064.7 1310.5,1064.8 1312.5,1064.8 1314.5,1064.8 1316.5,1064.9 1318.5,1064.9 1320.5,1064.9 1322.5,1065.0 1324.5,1065.0 1326.5,1065.0 1328.5,1065.1 1330.5,1065.1 1332.5,1065.1 1334.5,1065.1 1336.5,1065.2 1338.5,1065.2 1340.5,1065.2 1342.5,1065.3 1344.5,1065.3 1346.5,1065.3 1348.5,1065.3 1350.5,1065.4 1352.5,1065.4 1354.5,1065.4 1356.5,1065.5 1358.5,1065.5 1360.5,1065.5 1362.5,1065.5 1364.5,1065.6 1366.5,1065.6 1368.5,1065.6 1370.5,1065.6 1372.5,1065.7 1374.5,1065.7 1376.5,1065.7 1378.5,1065.7 1380.5,1065.8 1382.5,1065.8 1384.5,1065.8 1386.5,1065.8 1388.5,1065.9 1390.5,1065.9 1392.5,1065.9 1394.5,1065.9 1396.5,1066.0 1398.5,1066.0"/></g><g stroke="#0000ff"><polyline points="120.5,142.5 122.5,146.7 124.5,150.9 126.5,155.1 128.5,159.3 130.5,163.6 132.5,167.8 134.5,172.0 136.5,176.1 138.5,180.3 140.5,184.5 142.5,188.7 144.5,192.9 146.5,197.1 148.5,201.2 150.5,205.4 152.5,209.6 154.5,213.7 156.5,217.9 158.5,222.1 160.5,226.2 162.5,230.4 164.5,234.5 166.5,238.6 168.5,242.8 170.5,246.9 172.5,251.1 174.5,255.2 176.5,259.3 178.5,263.4 180.5,267.5 182.5,271.6 184.5,275.7 186.5,279.8 188.5,283.9 190.5,288.0 192.5,292.1 194.5,296.2 196.5,300.3 198.5,304.4 200.5,308.4 202.5,312.5 204.5,316.6 206.5,320.7 208.5,324.7 210.5,328.8 212.5,332.9 214.5,336.9 216.5,341.0 218.5,345.1 220.5,349.1 222.5,353.2 224.5,357.3 226.5,361.4 228.5,365.4 230.5,369.5 232.5,373.6 234.5,377.7 236.5,381.8 238.5,385.9 240.5,390.0 242.5,394.1 244.5,398.2 246.5,402.3 248.5,406.4 250.5,410.5 252.5,414.6 254.5,418.6 256.5,422.7 258.5,426.8 260.5,430.9 262.5,434.9 264.5,439.0 266.5,443.0 268.5,447.0 270.5,451.1 272.5,455.1 274.5,459.0 276.5,463.0 278.5,467.0 280.5,470.9 282.5,474.8 284.5,478.7 286.5,482.6 288.5,486.5 290.5,490.4 292.5,494.3 294.5,498.2 296.5,502.1 298.5,505.9 300.5,509.8 302.5,513.6 304.5,517.4 306.5,521.2 308.5,525.1 310.5,528.9 312.5,532.6 314.5,536.4 316.5,540.2 318.5,543.9 320.5,547.7 322.5,551.4 324.5,555.1 326.5,558.9 328.5,562.6 330.5,566.3 332.5,569.9 334.5,573.6 336.5,577.2 338.5,580.9 340.5,584.5 342.5,588.2 344.5,591.8 346.5,595.4 348.5,599.0 350.5,602.6 352.5,606.1 354.5,609.7 356.5,613.3 358.5,616.8 360.5,620.4 362.5,623.9 364.5,627.4 366.5,630.9 368.5,634.4 370.5,637.9 372.5,641.4 374.5,644.8 376.5,648.3 378.5,651.7 380.5,655.2 382.5,658.6 384.5,662.0 386.5,665.4 388.5,668.8 390.5,672.2 392.5,675.6 394.5,679.0 396.5,682.3 398.5,685.7 400.5,689.1 402.5,692.4 404.5,695.8 406.5,699.1 408.5,702.5 410.5,705.8 412.5,709.1 414.5,712.4 416.5,715.7 418.5,718.9 420.5,722.2 422.5,725.4 424.5,728.6 426.5,731.8 428.5,735.0 430.5,738.1 432.5,741.2 434.5,744.3 436.5,747.4 438.5,750.4 440.5,753.5 442.5,756.5 444.5,759.4 446.5,762.4 448.5,765.4 450.5,768.3 452.5,771.2 454.5,774.1 456.5,777.0 458.5,779.8 460.5,782.7 462.5,785.5 464.5,788.3 466.5,791.1 468.5,793.9 470.5,796.7 472.5,799.5 474.5,802.2 476.5,804.9 478.5,807.6 480.5,810.3 482.5,813.0 484.5,815.6 486.5,818.3 488.5,820.9 490.5,823.5 492.5,826.1 494.5,828.7 496.5,831.3 498.5,833.9 500.5,836.4 502.5,839.0 504.5,841.5 506.5,844.0 508.5,846.5 510.5,849.0 512.5,851.5 514.5,854.0 516.5,856.4 518.5,858.9 520.5,861.3 522.5,863.7 524.5,866.1 526.5,868.5 528.5,870.9 530.5,873.2 532.5,875.5 534.5,877.8 536.5,880.1 538.5,882.4 540.5,884.6 542.5,886.8 544.5,889.0 546.5,891.2 548.5,893.4 550.5,895.5 552.5,897.7 554.5,899.8 556.5,901.9 558.5,904.0 560.5,906.1 562.5,908.2 564.5,910.3 566.5,912.3 568.5,914.4 570.5,916.4 572.5,918.4 574.5,920.4 576.5,922.4 578.5,924.3 580.5,926.2 582.5,928.2 584.5,930.0 586.5,931.9 588.5,933.8 590.5,935.6 592.5,937.4 594.5,939.1 596.5,940.9 598.5,942.6 600.5,944.3 602.5,946.0 604.5,947.6 606.5,949.2 608.5,950.9 610.5,952.5 612.5,954.1 614.5,955.6 616.5,957.2 618.5,958.8 620.5,960.3 622.5,961.8 624.5,963.3 626.5,964.8 628.5,966.2 630.5,967.7 632.5,969.1 634.5,970.5 636.5,971.9 638.5,973.3 640.5,974.7 642.5,976.0 644.5,977.3 646.5,978.7 648.5,979.9 650.5,981.2 652.5,982.5 654.5,983.7 656.5,985.0 658.5,986.2 660.5,987.4 662.5,988.6 664.5,989.8 666.5,991.0 668.5,992.2 670.5,993.3 672.5,994.5 674.5,995.6 676.5,996.7 678.5,997.9 680.5,999.0 682.5,1000.0 684.5,1001.1 686.5,1002.2 688.5,1003.2 690.5,1004.2 692.5,1005.2 694.5,1006.2 696.5,1007.2 698.5,1008.1 700.5,1009.1 702.5,1010.0 704.5,1010.9 706.5,1011.8 708.5,1012.6 710.5,1013.5 712.5,1014.3 714.5,1015.1 716.5,1015.9 718.5,1016.7 720.5,1017.5 722.5,1018.3 724.5,1019.1 726.5,1019.8 728.5,1020.6 730.5,1021.3 732.5,1022.0 734.5,1022.8 736.5,1023.5 738.5,1024.2 740.5,1024.8 742.5,1025.5 744.5,1026.2 746.5,1026.8 748.5,1027.5 750.5,1028.1 752.5,1028.8 754.5,1029.4 756.5,1030.0 758.5,1030.6 760.5,1031.2 762.5,1031.8 764.5,1032.4 766.5,1032.9 768.5,1033.5 770.5,1034.1 772.5,1034.6 774.5,1035.2 776.5,1035.7 778.5,1036.3 780.5,1036.8 782.5,1037.3 784.5,1037.9 786.5,1038.4 788.5,1038.9 790.5,1039.4 792.5,1039.9 794.5,1040.3 796.5,1040.8 798.5,1041.3 800.5,1041.7 802.5,1042.2 804.5,1042.6 806.5,1043.0 808.5,1043.5 810.5,1043.9 812.5,1044.3 814.5,1044.7 816.5,1045.0 818.5,1045.4 820.5,1045.8 822.5,1046.2 824.5,1046.5 826.5,1046.9 828.5,1047.3 830.5,1047.6 832.5,1048.0 834.5,1048.3 836.5,1048.6 838.5,1049.0 840.5,1049.3 842.5,1049.6 844.5,1049.9 846.5,1050.2 848.5,1050.5 850.5,1050.8 852.5,1051.1 854.5,1051.4 856.5,1051.6 858.5,1051.9 860.5,1052.1 862.5,1052.4 864.5,1052.6 866.5,1052.8 868.5,1053.0 870.5,1053.2 872.5,1053.4 874.5,1053.6 876.5,1053.8 878.5,1054.0 880.5,1054.2 882.5,1054.3 884.5,1054.5 886.5,1054.7 888.5,1054.8 890.5,1055.0 892.5,1055.1 894.5,1055.3 896.5,1055.4 898.5,1055.6 900.5,1055.7 902.5,1055.9 904.5,1056.0 906.5,1056.1 908.5,1056.3 910.5,1056.4 912.5,1056.5 914.5,1056.7 916.5,1056.8 918.5,1056.9 920.5,1057.0 922.5,1057.2 924.5,1057.3 926.5,1057.4 928.5,1057.5 930.5,1057.6 932.5,1057.7 934.5,1057.9 936.5,1058.0 938.5,1058.1 940.5,1058.2 942.5,1058.3 944.5,1058.4 946.5,1058.5 948.5,1058.6 950.5,1058.7 952.5,1058.8 954.5,1058.9 956.5,1059.0 958.5,1059.1 960.5,1059.1 962.5,1059.2 964.5,1059.3 966.5,1059.4 968.5,1059.5 970.5,1059.6 972.5,1059.7 974.5,1059.8 976.5,1059.8 978.5,1059.9 980.5,1060.0 982.5,1060.1 984.5,1060.2 986.5,1060.3 988.5,1060.4 990.5,1060.5 992.5,1060.5 994.5,1060.6 996.5,1060.7 998.5,1060.8 1000.5,1060.9 1002.5,1061.0 1004.5,1061.0 1006.5,1061.1 1008.5,1061.2 1010.5,1061.3 1012.5,1061.4 1014.5,1061.5 1016.5,1061.5 1018.5,1061.6 1020.5,1061.7 1022.5,1061.8 1024.5,1061.9 1026.5,1061.9 1028.5,1062.0 1030.5,1062.1 1032.5,1062.2 1034.5,1062.2 1036.5,1062.3 1038.5,1062.4 1040.5,1062.4 1042.5,1062.5 1044.5,1062.6 1046.5,1062.6 1048.5,1062.7 1050.5,1062.8 1052.5,1062.8 1054.5,1062.9 1056.5,1063.0 1058.5,1063.0 1060.5,1063.1 1062.5,1063.1 1064.5,1063.2 1066.5,1063.2 1068.5,1063.3 1070.5,1063.3 1072.5,1063.4 1074.5,1063.4 1076.5,1063.4 1078.5,1063.5 1080.5,1063.5 1082.5,1063.6 1084.5,1063.6 1086.5,1063.6 1088.5,1063.7 1090.5,1063.7 1092.5,1063.7 1094.5,1063.8 1096.5,1063.8 1098.5,1063.8 1100.5,1063.8 1102.5,1063.9 1104.5,1063.9 1106.5,1063.9 1108.5,1064.0 1110.5,1064.0 1112.5,1064.0 1114.5,1064.0 1116.5,1064.1 1118.5,1064.1 1120.5,1064.1 1122.5,1064.2 1124.5,1064.2 1126.5,1064.2 1128.5,1064.2 1130.5,1064.3 1132.5,1064.3 1134.5,1064.3 1136.5,1064.3 1138.5,1064.3 1140.5,1064.4 1142.5,1064.4 1144.5,1064.4 1146.5,1064.4 1148.5,1064.4 1150.5,1064.5 1152.5,1064.5 1154.5,1064.5 1156.5,1064.5 1158.5,1064.5 1160.5,1064.6 1162.5,1064.6 1164.5,1064.6 1166.5,1064.6 1168.5,1064.6 1170.5,1064.7 1172.5,1064.7 1174.5,1064.7 1176.5,1064.7 1178.5,1064.7 1180.5,1064.8 1182.5,1064.8 1184.5,1064.8 1186.5,1064.8 1188.5,1064.8 1190.5,1064.8 1192.5,1064.9 1194.5,1064.9 1196.5,1064.9 1198.5,1064.9 1200.5,1064.9 1202.5,1064.9 1204.5,1064.9 1206.5,1065.0 1208.5,1065.0 1210.5,1065.0 1212.5,1065.0 1214.5,1065.0 1216.5,1065.0 1218.5,1065.1 1220.5,1065.1 1222.5,1065.1 1224.5,1065.1 1226.5,1065.1 1228.5,1065.1 1230.5,1065.1 1232.5,1065.1 1234.5,1065.2 1236.5,1065.2 1238.5,1065.2 1240.5,1065.2 1242.5,1065.2 1244.5,1065.2 1246.5,1065.2 1248.5,1065.2 1250.5,1065.3 1252.5,1065.3 1254.5,1065.3 1256.5,1065.3 1258.5,1065.3 1260.5,1065.3 1262.5,1065.3 1264.5,1065.3 1266.5,1065.4 1268.5,1065.4 1270.5,1065.4 1272.5,1065.4 1274.5,1065.4 1276.5,1065.4 1278.5,1065.4 1280.5,1065.4 1282.5,1065.4 1284.5,1065.5 1286.5,1065.5 1288.5,1065.5 1290.5,1065.5 1292.5,1065.5 1294.5,1065.5 1296.5,1065.5 1298.5,1065.5 1300.5,1065.5 1302.5,1065.6 1304.5,1065.6 1306.5,1065.6 1308.5,1065.6 1310.5,1065.6 1312.5,1065.6 1314.5,1065.6 1316.5,1065.6 1318.5,1065.6 1320.5,1065.6 1322.5,1065.7 1324.5,1065.7 1326.5,1065.7 1328.5,1065.7 1330.5,1065.7 1332.5,1065.7 1334.5,1065.7 1336.5,1065.7 1338.5,1065.7 1340.5,1065.7 1342.5,1065.8 1344.5,1065.8 1346.5,1065.8 1348.5,1065.8 1350.5,1065.8 1352.5,1065.8 1354.5,1065.8 1356.5,1065.8 1358.5,1065.8 1360.5,1065.8 1362.5,1065.8 1364.5,1065.9 1366.5,1065.9 1368.5,1065.9 1370.5,1065.9 1372.5,1065.9 1374.5,1065.9 1376.5,1065.9 1378.5,1065.9 1380.5,1065.9 1382.5,1065.9 1384.5,1065.9 1386.5,1066.0 1388.5,1066.0 1390.5,1066.0 1392.5,1066.0 1394.5,1066.0 1396.5,1066.0 1398.5,1066.0"/></g></g>
<defs><clipPath id="dc"><rect x="118.80" y="0" width="21.9" height="1153"/><rect x="162.50" y="0" width="21.9" height="1153"/><rect x="206.20" y="0" width="21.9" height="1153"/><rect x="249.90" y="0" width="21.9" height="1153"/><rect x="293.60" y="0" width="21.9" height="1153"/><rect x="337.30" y="0" width="21.9" height="1153"/><rect x="381.00" y="0" width="21.9" height="1153"/><rect x="424.70" y="0" width="21.9" height="1153"/><rect x="468.40" y="0" width="21.9" height="1153"/><rect x="512.10" y="0" width="21.9" height="1153"/><rect x="555.80" y="0" width="21.9" height="1153"/><rect x="599.50" y="0" width="21.9" height="1153"/><rect x="643.20" y="0" width="21.9" height="1153"/><rect x="686.90" y="0" width="21.9" height="1153"/><rect x="730.60" y="0" width="21.9" height="1153"/><rect x="774.30" y="0" width="21.9" height="1153"/><rect x="818.00" y="0" width="21.9" height="1153"/><rect x="861.70" y="0" width="21.9" height="1153"/><rect x="905.40" y="0" width="21.9" height="1153"/><rect x="949.10" y="0" width="21.9" height="1153"/><rect x="992.80" y="0" width="21.9" height="1153"/><rect x="1036.50" y="0" width="21.9" height="1153"/><rect x="1080.20" y="0" width="21.9" height="1153"/><rect x="1123.90" y="0" width="21.9" height="1153"/><rect x="1167.60" y="0" width="21.9" height="1153"/><rect x="1211.30" y="0" width="21.9" height="1153"/><rect x="1255.00" y="0" width="21.9" height="1153"/><rect x="1298.70" y="0" width="21.9" height="1153"/><rect x="1342.40" y="0" width="21.9" height="1153"/><rect x="1386.10" y="0" width="21.9" height="1153"/></clipPath></defs><g fill="none" stroke-width="4.5" stroke-linejoin="round" clip-path="url(#dc)"><g stroke="#000000"><polyline points="120.5,696.5 122.5,698.0 124.5,699.5 126.5,701.0 128.5,702.5 130.5,704.0 132.5,705.4 134.5,706.9 136.5,708.4 138.5,709.9 140.5,711.4 142.5,712.9 144.5,714.4 146.5,715.9 148.5,717.4 150.5,718.9 152.5,720.4 154.5,721.9 156.5,723.4 158.5,724.9 160.5,726.4 162.5,727.9 164.5,729.4 166.5,730.9 168.5,732.4 170.5,733.9 172.5,735.4 174.5,736.9 176.5,738.4 178.5,739.9 180.5,741.4 182.5,742.9 184.5,744.5 186.5,746.0 188.5,747.5 190.5,749.0 192.5,750.5 194.5,752.0 196.5,753.5 198.5,755.0 200.5,756.5 202.5,758.0 204.5,759.5 206.5,761.1 208.5,762.6 210.5,764.1 212.5,765.6 214.5,767.1 216.5,768.6 218.5,770.1 220.5,771.7 222.5,773.2 224.5,774.7 226.5,776.3 228.5,777.8 230.5,779.3 232.5,780.9 234.5,782.4 236.5,784.0 238.5,785.5 240.5,787.1 242.5,788.6 244.5,790.1 246.5,791.7 248.5,793.2 250.5,794.7 252.5,796.2 254.5,797.7 256.5,799.2 258.5,800.7 260.5,802.1 262.5,803.6 264.5,805.0 266.5,806.5 268.5,807.9 270.5,809.3 272.5,810.8 274.5,812.2 276.5,813.6 278.5,815.0 280.5,816.4 282.5,817.8 284.5,819.2 286.5,820.5 288.5,821.9 290.5,823.3 292.5,824.7 294.5,826.1 296.5,827.5 298.5,828.8 300.5,830.2 302.5,831.6 304.5,833.0 306.5,834.4 308.5,835.8 310.5,837.2 312.5,838.6 314.5,840.0 316.5,841.3 318.5,842.7 320.5,844.1 322.5,845.5 324.5,846.9 326.5,848.3 328.5,849.6 330.5,851.0 332.5,852.4 334.5,853.8 336.5,855.2 338.5,856.5 340.5,857.9 342.5,859.3 344.5,860.6 346.5,862.0 348.5,863.3 350.5,864.7 352.5,866.1 354.5,867.4 356.5,868.8 358.5,870.2 360.5,871.5 362.5,872.9 364.5,874.2 366.5,875.6 368.5,877.0 370.5,878.3 372.5,879.7 374.5,881.0 376.5,882.3 378.5,883.7 380.5,885.0 382.5,886.3 384.5,887.6 386.5,888.8 388.5,890.1 390.5,891.4 392.5,892.6 394.5,893.9 396.5,895.1 398.5,896.3 400.5,897.5 402.5,898.7 404.5,899.8 406.5,901.0 408.5,902.2 410.5,903.3 412.5,904.5 414.5,905.7 416.5,906.8 418.5,907.9 420.5,909.1 422.5,910.2 424.5,911.3 426.5,912.5 428.5,913.6 430.5,914.8 432.5,915.9 434.5,917.0 436.5,918.2 438.5,919.3 440.5,920.5 442.5,921.6 444.5,922.8 446.5,923.9 448.5,925.0 450.5,926.2 452.5,927.3 454.5,928.5 456.5,929.6 458.5,930.7 460.5,931.9 462.5,933.0 464.5,934.1 466.5,935.2 468.5,936.3 470.5,937.4 472.5,938.5 474.5,939.6 476.5,940.7 478.5,941.7 480.5,942.8 482.5,943.8 484.5,944.9 486.5,945.9 488.5,947.0 490.5,948.0 492.5,949.1 494.5,950.1 496.5,951.1 498.5,952.1 500.5,953.1 502.5,954.1 504.5,955.1 506.5,956.1 508.5,957.1 510.5,958.1 512.5,959.1 514.5,960.0 516.5,961.0 518.5,961.9 520.5,962.8 522.5,963.8 524.5,964.7 526.5,965.6 528.5,966.5 530.5,967.4 532.5,968.3 534.5,969.2 536.5,970.0 538.5,970.9 540.5,971.8 542.5,972.6 544.5,973.5 546.5,974.3 548.5,975.2 550.5,976.0 552.5,976.8 554.5,977.7 556.5,978.5 558.5,979.3 560.5,980.1 562.5,980.9 564.5,981.7 566.5,982.5 568.5,983.3 570.5,984.1 572.5,984.9 574.5,985.6 576.5,986.4 578.5,987.2 580.5,988.0 582.5,988.7 584.5,989.5 586.5,990.3 588.5,991.0 590.5,991.7 592.5,992.5 594.5,993.2 596.5,993.9 598.5,994.7 600.5,995.4 602.5,996.1 604.5,996.8 606.5,997.5 608.5,998.2 610.5,998.9 612.5,999.5 614.5,1000.2 616.5,1000.9 618.5,1001.6 620.5,1002.2 622.5,1002.9 624.5,1003.5 626.5,1004.2 628.5,1004.8 630.5,1005.5 632.5,1006.1 634.5,1006.7 636.5,1007.4 638.5,1008.0 640.5,1008.6 642.5,1009.2 644.5,1009.8 646.5,1010.4 648.5,1010.9 650.5,1011.5 652.5,1012.1 654.5,1012.6 656.5,1013.2 658.5,1013.7 660.5,1014.3 662.5,1014.8 664.5,1015.3 666.5,1015.8 668.5,1016.3 670.5,1016.8 672.5,1017.3 674.5,1017.8 676.5,1018.3 678.5,1018.8 680.5,1019.3 682.5,1019.8 684.5,1020.2 686.5,1020.7 688.5,1021.2 690.5,1021.7 692.5,1022.1 694.5,1022.6 696.5,1023.1 698.5,1023.5 700.5,1024.0 702.5,1024.5 704.5,1024.9 706.5,1025.4 708.5,1025.9 710.5,1026.3 712.5,1026.8 714.5,1027.3 716.5,1027.7 718.5,1028.2 720.5,1028.7 722.5,1029.1 724.5,1029.6 726.5,1030.0 728.5,1030.4 730.5,1030.8 732.5,1031.2 734.5,1031.6 736.5,1032.0 738.5,1032.4 740.5,1032.7 742.5,1033.1 744.5,1033.4 746.5,1033.7 748.5,1034.0 750.5,1034.3 752.5,1034.6 754.5,1034.9 756.5,1035.2 758.5,1035.5 760.5,1035.8 762.5,1036.0 764.5,1036.3 766.5,1036.5 768.5,1036.8 770.5,1037.1 772.5,1037.3 774.5,1037.6 776.5,1037.8 778.5,1038.1 780.5,1038.3 782.5,1038.6 784.5,1038.8 786.5,1039.1 788.5,1039.3 790.5,1039.6 792.5,1039.8 794.5,1040.1 796.5,1040.3 798.5,1040.6 800.5,1040.8 802.5,1041.1 804.5,1041.3 806.5,1041.6 808.5,1041.8 810.5,1042.1 812.5,1042.3 814.5,1042.6 816.5,1042.8 818.5,1043.1 820.5,1043.3 822.5,1043.6 824.5,1043.8 826.5,1044.1 828.5,1044.3 830.5,1044.5 832.5,1044.8 834.5,1045.0 836.5,1045.2 838.5,1045.5 840.5,1045.7 842.5,1045.9 844.5,1046.2 846.5,1046.4 848.5,1046.6 850.5,1046.8 852.5,1047.1 854.5,1047.3 856.5,1047.5 858.5,1047.7 860.5,1047.9 862.5,1048.1 864.5,1048.3 866.5,1048.6 868.5,1048.8 870.5,1049.0 872.5,1049.2 874.5,1049.4 876.5,1049.6 878.5,1049.8 880.5,1050.0 882.5,1050.2 884.5,1050.4 886.5,1050.6 888.5,1050.8 890.5,1051.0 892.5,1051.2 894.5,1051.4 896.5,1051.6 898.5,1051.7 900.5,1051.9 902.5,1052.1 904.5,1052.3 906.5,1052.4 908.5,1052.6 910.5,1052.8 912.5,1052.9 914.5,1053.1 916.5,1053.2 918.5,1053.4 920.5,1053.5 922.5,1053.7 924.5,1053.8 926.5,1053.9 928.5,1054.1 930.5,1054.2 932.5,1054.3 934.5,1054.4 936.5,1054.6 938.5,1054.7 940.5,1054.8 942.5,1054.9 944.5,1055.0 946.5,1055.1 948.5,1055.2 950.5,1055.4 952.5,1055.5 954.5,1055.6 956.5,1055.7 958.5,1055.8 960.5,1055.9 962.5,1056.0 964.5,1056.1 966.5,1056.2 968.5,1056.3 970.5,1056.4 972.5,1056.5 974.5,1056.6 976.5,1056.7 978.5,1056.8 980.5,1056.9 982.5,1057.0 984.5,1057.1 986.5,1057.1 988.5,1057.2 990.5,1057.3 992.5,1057.4 994.5,1057.5 996.5,1057.6 998.5,1057.7 1000.5,1057.8 1002.5,1057.9 1004.5,1057.9 1006.5,1058.0 1008.5,1058.1 1010.5,1058.2 1012.5,1058.3 1014.5,1058.4 1016.5,1058.4 1018.5,1058.5 1020.5,1058.6 1022.5,1058.7 1024.5,1058.7 1026.5,1058.8 1028.5,1058.9 1030.5,1059.0 1032.5,1059.0 1034.5,1059.1 1036.5,1059.2 1038.5,1059.2 1040.5,1059.3 1042.5,1059.4 1044.5,1059.4 1046.5,1059.5 1048.5,1059.6 1050.5,1059.6 1052.5,1059.7 1054.5,1059.8 1056.5,1059.8 1058.5,1059.9 1060.5,1059.9 1062.5,1060.0 1064.5,1060.1 1066.5,1060.1 1068.5,1060.2 1070.5,1060.2 1072.5,1060.3 1074.5,1060.3 1076.5,1060.4 1078.5,1060.5 1080.5,1060.5 1082.5,1060.6 1084.5,1060.6 1086.5,1060.7 1088.5,1060.7 1090.5,1060.8 1092.5,1060.8 1094.5,1060.9 1096.5,1060.9 1098.5,1061.0 1100.5,1061.0 1102.5,1061.1 1104.5,1061.1 1106.5,1061.2 1108.5,1061.3 1110.5,1061.3 1112.5,1061.4 1114.5,1061.4 1116.5,1061.5 1118.5,1061.5 1120.5,1061.6 1122.5,1061.6 1124.5,1061.6 1126.5,1061.7 1128.5,1061.7 1130.5,1061.8 1132.5,1061.8 1134.5,1061.9 1136.5,1061.9 1138.5,1062.0 1140.5,1062.0 1142.5,1062.1 1144.5,1062.1 1146.5,1062.2 1148.5,1062.2 1150.5,1062.3 1152.5,1062.3 1154.5,1062.3 1156.5,1062.4 1158.5,1062.4 1160.5,1062.5 1162.5,1062.5 1164.5,1062.6 1166.5,1062.6 1168.5,1062.6 1170.5,1062.7 1172.5,1062.7 1174.5,1062.8 1176.5,1062.8 1178.5,1062.8 1180.5,1062.9 1182.5,1062.9 1184.5,1063.0 1186.5,1063.0 1188.5,1063.0 1190.5,1063.1 1192.5,1063.1 1194.5,1063.2 1196.5,1063.2 1198.5,1063.2 1200.5,1063.3 1202.5,1063.3 1204.5,1063.4 1206.5,1063.4 1208.5,1063.4 1210.5,1063.5 1212.5,1063.5 1214.5,1063.5 1216.5,1063.6 1218.5,1063.6 1220.5,1063.7 1222.5,1063.7 1224.5,1063.7 1226.5,1063.8 1228.5,1063.8 1230.5,1063.8 1232.5,1063.9 1234.5,1063.9 1236.5,1063.9 1238.5,1064.0 1240.5,1064.0 1242.5,1064.0 1244.5,1064.1 1246.5,1064.1 1248.5,1064.1 1250.5,1064.2 1252.5,1064.2 1254.5,1064.2 1256.5,1064.3 1258.5,1064.3 1260.5,1064.3 1262.5,1064.4 1264.5,1064.4 1266.5,1064.4 1268.5,1064.5 1270.5,1064.5 1272.5,1064.5 1274.5,1064.6 1276.5,1064.6 1278.5,1064.6 1280.5,1064.6 1282.5,1064.7 1284.5,1064.7 1286.5,1064.7 1288.5,1064.8 1290.5,1064.8 1292.5,1064.8 1294.5,1064.8 1296.5,1064.9 1298.5,1064.9 1300.5,1064.9 1302.5,1064.9 1304.5,1065.0 1306.5,1065.0 1308.5,1065.0 1310.5,1065.0 1312.5,1065.1 1314.5,1065.1 1316.5,1065.1 1318.5,1065.1 1320.5,1065.2 1322.5,1065.2 1324.5,1065.2 1326.5,1065.2 1328.5,1065.3 1330.5,1065.3 1332.5,1065.3 1334.5,1065.3 1336.5,1065.4 1338.5,1065.4 1340.5,1065.4 1342.5,1065.4 1344.5,1065.5 1346.5,1065.5 1348.5,1065.5 1350.5,1065.5 1352.5,1065.5 1354.5,1065.6 1356.5,1065.6 1358.5,1065.6 1360.5,1065.6 1362.5,1065.7 1364.5,1065.7 1366.5,1065.7 1368.5,1065.7 1370.5,1065.7 1372.5,1065.8 1374.5,1065.8 1376.5,1065.8 1378.5,1065.8 1380.5,1065.8 1382.5,1065.9 1384.5,1065.9 1386.5,1065.9 1388.5,1065.9 1390.5,1065.9 1392.5,1065.9 1394.5,1066.0 1396.5,1066.0 1398.5,1066.0"/></g><g stroke="#ff0000"><polyline points="120.5,760.0 122.5,761.3 124.5,762.6 126.5,763.9 128.5,765.2 130.5,766.5 132.5,767.8 134.5,769.1 136.5,770.4 138.5,771.7 140.5,773.0 142.5,774.3 144.5,775.6 146.5,776.9 148.5,778.2 150.5,779.5 152.5,780.8 154.5,782.1 156.5,783.4 158.5,784.7 160.5,786.0 162.5,787.3 164.5,788.6 166.5,789.9 168.5,791.2 170.5,792.5 172.5,793.9 174.5,795.2 176.5,796.5 178.5,797.8 180.5,799.1 182.5,800.4 184.5,801.7 186.5,803.0 188.5,804.3 190.5,805.6 192.5,806.9 194.5,808.2 196.5,809.6 198.5,810.9 200.5,812.2 202.5,813.5 204.5,814.8 206.5,816.1 208.5,817.4 210.5,818.7 212.5,820.0 214.5,821.4 216.5,822.7 218.5,824.0 220.5,825.3 222.5,826.6 224.5,827.9 226.5,829.3 228.5,830.6 230.5,831.9 232.5,833.2 234.5,834.5 236.5,835.9 238.5,837.2 240.5,838.5 242.5,839.8 244.5,841.2 246.5,842.5 248.5,843.8 250.5,845.1 252.5,846.4 254.5,847.8 256.5,849.1 258.5,850.4 260.5,851.7 262.5,853.0 264.5,854.3 266.5,855.6 268.5,856.9 270.5,858.2 272.5,859.5 274.5,860.8 276.5,862.1 278.5,863.4 280.5,864.7 282.5,866.0 284.5,867.3 286.5,868.6 288.5,869.9 290.5,871.2 292.5,872.4 294.5,873.7 296.5,875.0 298.5,876.2 300.5,877.5 302.5,878.8 304.5,880.0 306.5,881.2 308.5,882.5 310.5,883.7 312.5,884.9 314.5,886.2 316.5,887.4 318.5,888.6 320.5,889.8 322.5,891.0 324.5,892.2 326.5,893.4 328.5,894.6 330.5,895.8 332.5,897.0 334.5,898.1 336.5,899.3 338.5,900.5 340.5,901.7 342.5,902.8 344.5,904.0 346.5,905.1 348.5,906.3 350.5,907.4 352.5,908.6 354.5,909.7 356.5,910.8 358.5,912.0 360.5,913.1 362.5,914.2 364.5,915.3 366.5,916.4 368.5,917.5 370.5,918.6 372.5,919.7 374.5,920.8 376.5,921.9 378.5,923.0 380.5,924.1 382.5,925.1 384.5,926.2 386.5,927.3 388.5,928.4 390.5,929.5 392.5,930.5 394.5,931.6 396.5,932.7 398.5,933.8 400.5,934.8 402.5,935.9 404.5,937.0 406.5,938.0 408.5,939.1 410.5,940.2 412.5,941.2 414.5,942.3 416.5,943.3 418.5,944.4 420.5,945.5 422.5,946.5 424.5,947.5 426.5,948.6 428.5,949.6 430.5,950.6 432.5,951.7 434.5,952.7 436.5,953.7 438.5,954.7 440.5,955.8 442.5,956.8 444.5,957.8 446.5,958.8 448.5,959.8 450.5,960.9 452.5,961.9 454.5,962.9 456.5,963.9 458.5,964.9 460.5,965.9 462.5,966.9 464.5,967.8 466.5,968.8 468.5,969.8 470.5,970.7 472.5,971.6 474.5,972.6 476.5,973.5 478.5,974.4 480.5,975.3 482.5,976.1 484.5,977.0 486.5,977.8 488.5,978.7 490.5,979.5 492.5,980.3 494.5,981.2 496.5,982.0 498.5,982.8 500.5,983.6 502.5,984.4 504.5,985.2 506.5,985.9 508.5,986.7 510.5,987.5 512.5,988.3 514.5,989.0 516.5,989.8 518.5,990.6 520.5,991.3 522.5,992.1 524.5,992.9 526.5,993.6 528.5,994.4 530.5,995.2 532.5,995.9 534.5,996.7 536.5,997.5 538.5,998.2 540.5,999.0 542.5,999.7 544.5,1000.5 546.5,1001.2 548.5,1002.0 550.5,1002.7 552.5,1003.4 554.5,1004.1 556.5,1004.8 558.5,1005.6 560.5,1006.2 562.5,1006.9 564.5,1007.6 566.5,1008.3 568.5,1009.0 570.5,1009.6 572.5,1010.3 574.5,1010.9 576.5,1011.6 578.5,1012.2 580.5,1012.9 582.5,1013.5 584.5,1014.2 586.5,1014.8 588.5,1015.4 590.5,1016.0 592.5,1016.6 594.5,1017.2 596.5,1017.8 598.5,1018.4 600.5,1019.0 602.5,1019.6 604.5,1020.2 606.5,1020.7 608.5,1021.3 610.5,1021.8 612.5,1022.4 614.5,1022.9 616.5,1023.5 618.5,1024.0 620.5,1024.6 622.5,1025.1 624.5,1025.6 626.5,1026.2 628.5,1026.7 630.5,1027.2 632.5,1027.7 634.5,1028.2 636.5,1028.7 638.5,1029.2 640.5,1029.7 642.5,1030.2 644.5,1030.6 646.5,1031.1 648.5,1031.5 650.5,1032.0 652.5,1032.4 654.5,1032.8 656.5,1033.2 658.5,1033.6 660.5,1034.0 662.5,1034.3 664.5,1034.7 666.5,1035.0 668.5,1035.4 670.5,1035.7 672.5,1036.1 674.5,1036.4 676.5,1036.7 678.5,1037.1 680.5,1037.4 682.5,1037.7 684.5,1038.0 686.5,1038.3 688.5,1038.7 690.5,1039.0 692.5,1039.3 694.5,1039.6 696.5,1040.0 698.5,1040.3 700.5,1040.6 702.5,1041.0 704.5,1041.3 706.5,1041.6 708.5,1042.0 710.5,1042.3 712.5,1042.7 714.5,1043.0 716.5,1043.4 718.5,1043.7 720.5,1044.0 722.5,1044.4 724.5,1044.7 726.5,1045.0 728.5,1045.3 730.5,1045.7 732.5,1046.0 734.5,1046.3 736.5,1046.6 738.5,1046.8 740.5,1047.1 742.5,1047.4 744.5,1047.6 746.5,1047.9 748.5,1048.1 750.5,1048.4 752.5,1048.6 754.5,1048.8 756.5,1049.1 758.5,1049.3 760.5,1049.5 762.5,1049.7 764.5,1049.9 766.5,1050.2 768.5,1050.4 770.5,1050.6 772.5,1050.8 774.5,1051.0 776.5,1051.1 778.5,1051.3 780.5,1051.5 782.5,1051.7 784.5,1051.9 786.5,1052.0 788.5,1052.2 790.5,1052.4 792.5,1052.5 794.5,1052.7 796.5,1052.9 798.5,1053.0 800.5,1053.2 802.5,1053.4 804.5,1053.5 806.5,1053.7 808.5,1053.8 810.5,1054.0 812.5,1054.1 814.5,1054.3 816.5,1054.4 818.5,1054.6 820.5,1054.7 822.5,1054.9 824.5,1055.0 826.5,1055.2 828.5,1055.3 830.5,1055.4 832.5,1055.6 834.5,1055.7 836.5,1055.8 838.5,1056.0 840.5,1056.1 842.5,1056.2 844.5,1056.3 846.5,1056.5 848.5,1056.6 850.5,1056.7 852.5,1056.8 854.5,1056.9 856.5,1057.0 858.5,1057.1 860.5,1057.2 862.5,1057.3 864.5,1057.4 866.5,1057.5 868.5,1057.6 870.5,1057.7 872.5,1057.8 874.5,1057.9 876.5,1058.0 878.5,1058.0 880.5,1058.1 882.5,1058.2 884.5,1058.3 886.5,1058.3 888.5,1058.4 890.5,1058.5 892.5,1058.6 894.5,1058.6 896.5,1058.7 898.5,1058.8 900.5,1058.8 902.5,1058.9 904.5,1059.0 906.5,1059.0 908.5,1059.1 910.5,1059.2 912.5,1059.2 914.5,1059.3 916.5,1059.4 918.5,1059.4 920.5,1059.5 922.5,1059.6 924.5,1059.7 926.5,1059.7 928.5,1059.8 930.5,1059.9 932.5,1060.0 934.5,1060.0 936.5,1060.1 938.5,1060.2 940.5,1060.2 942.5,1060.3 944.5,1060.4 946.5,1060.5 948.5,1060.5 950.5,1060.6 952.5,1060.7 954.5,1060.7 956.5,1060.8 958.5,1060.9 960.5,1060.9 962.5,1061.0 964.5,1061.1 966.5,1061.1 968.5,1061.2 970.5,1061.2 972.5,1061.3 974.5,1061.3 976.5,1061.4 978.5,1061.4 980.5,1061.5 982.5,1061.6 984.5,1061.6 986.5,1061.7 988.5,1061.7 990.5,1061.8 992.5,1061.8 994.5,1061.8 996.5,1061.9 998.5,1061.9 1000.5,1062.0 1002.5,1062.0 1004.5,1062.1 1006.5,1062.1 1008.5,1062.2 1010.5,1062.2 1012.5,1062.2 1014.5,1062.3 1016.5,1062.3 1018.5,1062.4 1020.5,1062.4 1022.5,1062.4 1024.5,1062.5 1026.5,1062.5 1028.5,1062.5 1030.5,1062.6 1032.5,1062.6 1034.5,1062.6 1036.5,1062.7 1038.5,1062.7 1040.5,1062.7 1042.5,1062.8 1044.5,1062.8 1046.5,1062.8 1048.5,1062.9 1050.5,1062.9 1052.5,1062.9 1054.5,1063.0 1056.5,1063.0 1058.5,1063.0 1060.5,1063.0 1062.5,1063.1 1064.5,1063.1 1066.5,1063.1 1068.5,1063.1 1070.5,1063.2 1072.5,1063.2 1074.5,1063.2 1076.5,1063.3 1078.5,1063.3 1080.5,1063.3 1082.5,1063.3 1084.5,1063.4 1086.5,1063.4 1088.5,1063.4 1090.5,1063.4 1092.5,1063.5 1094.5,1063.5 1096.5,1063.5 1098.5,1063.5 1100.5,1063.6 1102.5,1063.6 1104.5,1063.6 1106.5,1063.6 1108.5,1063.7 1110.5,1063.7 1112.5,1063.7 1114.5,1063.7 1116.5,1063.7 1118.5,1063.8 1120.5,1063.8 1122.5,1063.8 1124.5,1063.8 1126.5,1063.9 1128.5,1063.9 1130.5,1063.9 1132.5,1063.9 1134.5,1064.0 1136.5,1064.0 1138.5,1064.0 1140.5,1064.0 1142.5,1064.0 1144.5,1064.1 1146.5,1064.1 1148.5,1064.1 1150.5,1064.1 1152.5,1064.1 1154.5,1064.2 1156.5,1064.2 1158.5,1064.2 1160.5,1064.2 1162.5,1064.3 1164.5,1064.3 1166.5,1064.3 1168.5,1064.3 1170.5,1064.3 1172.5,1064.4 1174.5,1064.4 1176.5,1064.4 1178.5,1064.4 1180.5,1064.4 1182.5,1064.5 1184.5,1064.5 1186.5,1064.5 1188.5,1064.5 1190.5,1064.5 1192.5,1064.6 1194.5,1064.6 1196.5,1064.6 1198.5,1064.6 1200.5,1064.7 1202.5,1064.7 1204.5,1064.7 1206.5,1064.7 1208.5,1064.7 1210.5,1064.8 1212.5,1064.8 1214.5,1064.8 1216.5,1064.8 1218.5,1064.8 1220.5,1064.9 1222.5,1064.9 1224.5,1064.9 1226.5,1064.9 1228.5,1064.9 1230.5,1065.0 1232.5,1065.0 1234.5,1065.0 1236.5,1065.0 1238.5,1065.0 1240.5,1065.1 1242.5,1065.1 1244.5,1065.1 1246.5,1065.1 1248.5,1065.1 1250.5,1065.2 1252.5,1065.2 1254.5,1065.2 1256.5,1065.2 1258.5,1065.2 1260.5,1065.3 1262.5,1065.3 1264.5,1065.3 1266.5,1065.3 1268.5,1065.3 1270.5,1065.3 1272.5,1065.4 1274.5,1065.4 1276.5,1065.4 1278.5,1065.4 1280.5,1065.4 1282.5,1065.4 1284.5,1065.5 1286.5,1065.5 1288.5,1065.5 1290.5,1065.5 1292.5,1065.5 1294.5,1065.5 1296.5,1065.5 1298.5,1065.5 1300.5,1065.6 1302.5,1065.6 1304.5,1065.6 1306.5,1065.6 1308.5,1065.6 1310.5,1065.6 1312.5,1065.6 1314.5,1065.6 1316.5,1065.6 1318.5,1065.7 1320.5,1065.7 1322.5,1065.7 1324.5,1065.7 1326.5,1065.7 1328.5,1065.7 1330.5,1065.7 1332.5,1065.7 1334.5,1065.7 1336.5,1065.8 1338.5,1065.8 1340.5,1065.8 1342.5,1065.8 1344.5,1065.8 1346.5,1065.8 1348.5,1065.8 1350.5,1065.8 1352.5,1065.8 1354.5,1065.8 1356.5,1065.9 1358.5,1065.9 1360.5,1065.9 1362.5,1065.9 1364.5,1065.9 1366.5,1065.9 1368.5,1065.9 1370.5,1065.9 1372.5,1065.9 1374.5,1065.9 1376.5,1065.9 1378.5,1065.9 1380.5,1065.9 1382.5,1066.0 1384.5,1066.0 1386.5,1066.0 1388.5,1066.0 1390.5,1066.0 1392.5,1066.0 1394.5,1066.0 1396.5,1066.0 1398.5,1066.0"/></g><g stroke="#00ff00"><polyline points="120.5,801.0 122.5,802.1 124.5,803.3 126.5,804.4 128.5,805.6 130.5,806.7 132.5,807.9 134.5,809.0 136.5,810.2 138.5,811.3 140.5,812.5 142.5,813.6 144.5,814.8 146.5,816.0 148.5,817.1 150.5,818.3 152.5,819.4 154.5,820.6 156.5,821.7 158.5,822.9 160.5,824.1 162.5,825.2 164.5,826.4 166.5,827.5 168.5,828.7 170.5,829.9 172.5,831.0 174.5,832.2 176.5,833.3 178.5,834.5 180.5,835.7 182.5,836.8 184.5,838.0 186.5,839.2 188.5,840.3 190.5,841.5 192.5,842.7 194.5,843.8 196.5,845.0 198.5,846.2 200.5,847.3 202.5,848.5 204.5,849.7 206.5,850.9 208.5,852.0 210.5,853.2 212.5,854.4 214.5,855.5 216.5,856.7 218.5,857.9 220.5,859.1 222.5,860.2 224.5,861.4 226.5,862.6 228.5,863.8 230.5,865.0 232.5,866.2 234.5,867.4 236.5,868.6 238.5,869.8 240.5,871.0 242.5,872.2 244.5,873.4 246.5,874.5 248.5,875.7 250.5,876.9 252.5,878.1 254.5,879.3 256.5,880.4 258.5,881.6 260.5,882.7 262.5,883.9 264.5,885.0 266.5,886.1 268.5,887.2 270.5,888.4 272.5,889.5 274.5,890.6 276.5,891.7 278.5,892.8 280.5,893.9 282.5,895.0 284.5,896.1 286.5,897.2 288.5,898.3 290.5,899.4 292.5,900.5 294.5,901.6 296.5,902.6 298.5,903.7 300.5,904.8 302.5,905.9 304.5,907.0 306.5,908.1 308.5,909.2 310.5,910.3 312.5,911.4 314.5,912.5 316.5,913.6 318.5,914.7 320.5,915.8 322.5,916.9 324.5,918.0 326.5,919.0 328.5,920.1 330.5,921.2 332.5,922.3 334.5,923.4 336.5,924.4 338.5,925.5 340.5,926.6 342.5,927.6 344.5,928.7 346.5,929.7 348.5,930.8 350.5,931.8 352.5,932.8 354.5,933.8 356.5,934.8 358.5,935.9 360.5,936.9 362.5,937.9 364.5,938.9 366.5,939.9 368.5,940.9 370.5,941.9 372.5,942.8 374.5,943.8 376.5,944.8 378.5,945.8 380.5,946.7 382.5,947.7 384.5,948.7 386.5,949.6 388.5,950.6 390.5,951.5 392.5,952.5 394.5,953.4 396.5,954.4 398.5,955.3 400.5,956.2 402.5,957.1 404.5,958.1 406.5,959.0 408.5,959.9 410.5,960.8 412.5,961.7 414.5,962.6 416.5,963.5 418.5,964.4 420.5,965.3 422.5,966.2 424.5,967.1 426.5,968.0 428.5,968.9 430.5,969.8 432.5,970.7 434.5,971.6 436.5,972.4 438.5,973.3 440.5,974.2 442.5,975.1 444.5,976.0 446.5,976.9 448.5,977.8 450.5,978.7 452.5,979.6 454.5,980.5 456.5,981.4 458.5,982.3 460.5,983.2 462.5,984.1 464.5,985.0 466.5,985.8 468.5,986.7 470.5,987.5 472.5,988.4 474.5,989.2 476.5,990.0 478.5,990.8 480.5,991.6 482.5,992.4 484.5,993.2 486.5,993.9 488.5,994.7 490.5,995.5 492.5,996.2 494.5,997.0 496.5,997.7 498.5,998.4 500.5,999.2 502.5,999.9 504.5,1000.6 506.5,1001.3 508.5,1002.0 510.5,1002.7 512.5,1003.4 514.5,1004.1 516.5,1004.8 518.5,1005.5 520.5,1006.2 522.5,1006.8 524.5,1007.5 526.5,1008.2 528.5,1008.8 530.5,1009.5 532.5,1010.1 534.5,1010.8 536.5,1011.4 538.5,1012.0 540.5,1012.7 542.5,1013.3 544.5,1013.9 546.5,1014.5 548.5,1015.1 550.5,1015.7 552.5,1016.3 554.5,1016.9 556.5,1017.5 558.5,1018.1 560.5,1018.7 562.5,1019.3 564.5,1019.9 566.5,1020.5 568.5,1021.1 570.5,1021.7 572.5,1022.3 574.5,1022.9 576.5,1023.5 578.5,1024.1 580.5,1024.7 582.5,1025.3 584.5,1025.9 586.5,1026.5 588.5,1027.0 590.5,1027.6 592.5,1028.2 594.5,1028.8 596.5,1029.3 598.5,1029.8 600.5,1030.4 602.5,1030.9 604.5,1031.4 606.5,1031.9 608.5,1032.4 610.5,1032.8 612.5,1033.3 614.5,1033.7 616.5,1034.1 618.5,1034.5 620.5,1035.0 622.5,1035.4 624.5,1035.8 626.5,1036.2 628.5,1036.6 630.5,1036.9 632.5,1037.3 634.5,1037.7 636.5,1038.0 638.5,1038.4 640.5,1038.8 642.5,1039.1 644.5,1039.4 646.5,1039.8 648.5,1040.1 650.5,1040.4 652.5,1040.8 654.5,1041.1 656.5,1041.4 658.5,1041.7 660.5,1042.0 662.5,1042.3 664.5,1042.6 666.5,1042.9 668.5,1043.2 670.5,1043.5 672.5,1043.8 674.5,1044.0 676.5,1044.3 678.5,1044.6 680.5,1044.8 682.5,1045.1 684.5,1045.4 686.5,1045.6 688.5,1045.9 690.5,1046.1 692.5,1046.4 694.5,1046.6 696.5,1046.8 698.5,1047.1 700.5,1047.3 702.5,1047.5 704.5,1047.7 706.5,1047.9 708.5,1048.1 710.5,1048.3 712.5,1048.5 714.5,1048.7 716.5,1048.9 718.5,1049.1 720.5,1049.3 722.5,1049.5 724.5,1049.7 726.5,1049.9 728.5,1050.1 730.5,1050.3 732.5,1050.5 734.5,1050.7 736.5,1050.8 738.5,1051.0 740.5,1051.2 742.5,1051.5 744.5,1051.7 746.5,1051.9 748.5,1052.1 750.5,1052.3 752.5,1052.6 754.5,1052.8 756.5,1053.0 758.5,1053.3 760.5,1053.5 762.5,1053.7 764.5,1053.9 766.5,1054.2 768.5,1054.4 770.5,1054.6 772.5,1054.8 774.5,1055.0 776.5,1055.2 778.5,1055.4 780.5,1055.6 782.5,1055.7 784.5,1055.9 786.5,1056.0 788.5,1056.2 790.5,1056.3 792.5,1056.4 794.5,1056.6 796.5,1056.7 798.5,1056.8 800.5,1056.9 802.5,1057.0 804.5,1057.1 806.5,1057.3 808.5,1057.4 810.5,1057.5 812.5,1057.6 814.5,1057.7 816.5,1057.8 818.5,1057.9 820.5,1058.0 822.5,1058.1 824.5,1058.2 826.5,1058.3 828.5,1058.4 830.5,1058.5 832.5,1058.5 834.5,1058.6 836.5,1058.7 838.5,1058.8 840.5,1058.9 842.5,1059.0 844.5,1059.0 846.5,1059.1 848.5,1059.2 850.5,1059.3 852.5,1059.3 854.5,1059.4 856.5,1059.5 858.5,1059.5 860.5,1059.6 862.5,1059.7 864.5,1059.8 866.5,1059.8 868.5,1059.9 870.5,1059.9 872.5,1060.0 874.5,1060.1 876.5,1060.1 878.5,1060.2 880.5,1060.2 882.5,1060.3 884.5,1060.3 886.5,1060.4 888.5,1060.4 890.5,1060.5 892.5,1060.5 894.5,1060.6 896.5,1060.6 898.5,1060.7 900.5,1060.7 902.5,1060.8 904.5,1060.8 906.5,1060.9 908.5,1060.9 910.5,1061.0 912.5,1061.0 914.5,1061.1 916.5,1061.1 918.5,1061.2 920.5,1061.2 922.5,1061.3 924.5,1061.3 926.5,1061.4 928.5,1061.4 930.5,1061.5 932.5,1061.5 934.5,1061.6 936.5,1061.6 938.5,1061.7 940.5,1061.7 942.5,1061.8 944.5,1061.8 946.5,1061.9 948.5,1061.9 950.5,1062.0 952.5,1062.0 954.5,1062.1 956.5,1062.1 958.5,1062.2 960.5,1062.2 962.5,1062.3 964.5,1062.3 966.5,1062.4 968.5,1062.4 970.5,1062.4 972.5,1062.5 974.5,1062.5 976.5,1062.6 978.5,1062.6 980.5,1062.6 982.5,1062.7 984.5,1062.7 986.5,1062.8 988.5,1062.8 990.5,1062.8 992.5,1062.9 994.5,1062.9 996.5,1062.9 998.5,1063.0 1000.5,1063.0 1002.5,1063.0 1004.5,1063.1 1006.5,1063.1 1008.5,1063.1 1010.5,1063.2 1012.5,1063.2 1014.5,1063.2 1016.5,1063.3 1018.5,1063.3 1020.5,1063.3 1022.5,1063.4 1024.5,1063.4 1026.5,1063.4 1028.5,1063.4 1030.5,1063.5 1032.5,1063.5 1034.5,1063.5 1036.5,1063.5 1038.5,1063.6 1040.5,1063.6 1042.5,1063.6 1044.5,1063.6 1046.5,1063.7 1048.5,1063.7 1050.5,1063.7 1052.5,1063.7 1054.5,1063.7 1056.5,1063.8 1058.5,1063.8 1060.5,1063.8 1062.5,1063.8 1064.5,1063.8 1066.5,1063.9 1068.5,1063.9 1070.5,1063.9 1072.5,1063.9 1074.5,1063.9 1076.5,1064.0 1078.5,1064.0 1080.5,1064.0 1082.5,1064.0 1084.5,1064.0 1086.5,1064.1 1088.5,1064.1 1090.5,1064.1 1092.5,1064.1 1094.5,1064.1 1096.5,1064.2 1098.5,1064.2 1100.5,1064.2 1102.5,1064.2 1104.5,1064.3 1106.5,1064.3 1108.5,1064.3 1110.5,1064.3 1112.5,1064.3 1114.5,1064.4 1116.5,1064.4 1118.5,1064.4 1120.5,1064.4 1122.5,1064.4 1124.5,1064.5 1126.5,1064.5 1128.5,1064.5 1130.5,1064.5 1132.5,1064.5 1134.5,1064.5 1136.5,1064.6 1138.5,1064.6 1140.5,1064.6 1142.5,1064.6 1144.5,1064.6 1146.5,1064.7 1148.5,1064.7 1150.5,1064.7 1152.5,1064.7 1154.5,1064.7 1156.5,1064.8 1158.5,1064.8 1160.5,1064.8 1162.5,1064.8 1164.5,1064.8 1166.5,1064.8 1168.5,1064.9 1170.5,1064.9 1172.5,1064.9 1174.5,1064.9 1176.5,1064.9 1178.5,1064.9 1180.5,1065.0 1182.5,1065.0 1184.5,1065.0 1186.5,1065.0 1188.5,1065.0 1190.5,1065.0 1192.5,1065.1 1194.5,1065.1 1196.5,1065.1 1198.5,1065.1 1200.5,1065.1 1202.5,1065.1 1204.5,1065.1 1206.5,1065.2 1208.5,1065.2 1210.5,1065.2 1212.5,1065.2 1214.5,1065.2 1216.5,1065.2 1218.5,1065.3 1220.5,1065.3 1222.5,1065.3 1224.5,1065.3 1226.5,1065.3 1228.5,1065.3 1230.5,1065.3 1232.5,1065.4 1234.5,1065.4 1236.5,1065.4 1238.5,1065.4 1240.5,1065.4 1242.5,1065.4 1244.5,1065.4 1246.5,1065.5 1248.5,1065.5 1250.5,1065.5 1252.5,1065.5 1254.5,1065.5 1256.5,1065.5 1258.5,1065.5 1260.5,1065.5 1262.5,1065.6 1264.5,1065.6 1266.5,1065.6 1268.5,1065.6 1270.5,1065.6 1272.5,1065.6 1274.5,1065.6 1276.5,1065.6 1278.5,1065.6 1280.5,1065.6 1282.5,1065.7 1284.5,1065.7 1286.5,1065.7 1288.5,1065.7 1290.5,1065.7 1292.5,1065.7 1294.5,1065.7 1296.5,1065.7 1298.5,1065.7 1300.5,1065.7 1302.5,1065.7 1304.5,1065.7 1306.5,1065.8 1308.5,1065.8 1310.5,1065.8 1312.5,1065.8 1314.5,1065.8 1316.5,1065.8 1318.5,1065.8 1320.5,1065.8 1322.5,1065.8 1324.5,1065.8 1326.5,1065.8 1328.5,1065.8 1330.5,1065.8 1332.5,1065.8 1334.5,1065.9 1336.5,1065.9 1338.5,1065.9 1340.5,1065.9 1342.5,1065.9 1344.5,1065.9 1346.5,1065.9 1348.5,1065.9 1350.5,1065.9 1352.5,1065.9 1354.5,1065.9 1356.5,1065.9 1358.5,1065.9 1360.5,1065.9 1362.5,1065.9 1364.5,1065.9 1366.5,1065.9 1368.5,1066.0 1370.5,1066.0 1372.5,1066.0 1374.5,1066.0 1376.5,1066.0 1378.5,1066.0 1380.5,1066.0 1382.5,1066.0 1384.5,1066.0 1386.5,1066.0 1388.5,1066.0 1390.5,1066.0 1392.5,1066.0 1394.5,1066.0 1396.5,1066.0 1398.5,1066.0"/></g><g stroke="#0000ff"><polyline points="120.5,829.0 122.5,830.0 124.5,831.1 126.5,832.1 128.5,833.1 130.5,834.2 132.5,835.2 134.5,836.3 136.5,837.3 138.5,838.3 140.5,839.4 142.5,840.4 144.5,841.5 146.5,842.5 148.5,843.6 150.5,844.6 152.5,845.7 154.5,846.7 156.5,847.8 158.5,848.8 160.5,849.9 162.5,850.9 164.5,852.0 166.5,853.1 168.5,854.1 170.5,855.2 172.5,856.2 174.5,857.3 176.5,858.4 178.5,859.4 180.5,860.5 182.5,861.5 184.5,862.6 186.5,863.7 188.5,864.7 190.5,865.8 192.5,866.9 194.5,867.9 196.5,869.0 198.5,870.1 200.5,871.1 202.5,872.2 204.5,873.3 206.5,874.4 208.5,875.4 210.5,876.5 212.5,877.6 214.5,878.7 216.5,879.7 218.5,880.8 220.5,881.9 222.5,883.0 224.5,884.1 226.5,885.2 228.5,886.3 230.5,887.4 232.5,888.5 234.5,889.6 236.5,890.7 238.5,891.8 240.5,892.9 242.5,894.1 244.5,895.2 246.5,896.3 248.5,897.3 250.5,898.4 252.5,899.5 254.5,900.6 256.5,901.6 258.5,902.7 260.5,903.7 262.5,904.8 264.5,905.8 266.5,906.8 268.5,907.8 270.5,908.8 272.5,909.8 274.5,910.8 276.5,911.8 278.5,912.8 280.5,913.7 282.5,914.7 284.5,915.7 286.5,916.6 288.5,917.6 290.5,918.6 292.5,919.5 294.5,920.5 296.5,921.5 298.5,922.5 300.5,923.4 302.5,924.4 304.5,925.4 306.5,926.4 308.5,927.4 310.5,928.4 312.5,929.4 314.5,930.4 316.5,931.4 318.5,932.4 320.5,933.4 322.5,934.4 324.5,935.4 326.5,936.5 328.5,937.5 330.5,938.5 332.5,939.5 334.5,940.5 336.5,941.5 338.5,942.4 340.5,943.4 342.5,944.4 344.5,945.3 346.5,946.3 348.5,947.2 350.5,948.2 352.5,949.1 354.5,950.0 356.5,950.9 358.5,951.9 360.5,952.8 362.5,953.7 364.5,954.6 366.5,955.5 368.5,956.4 370.5,957.3 372.5,958.1 374.5,959.0 376.5,959.9 378.5,960.8 380.5,961.7 382.5,962.5 384.5,963.4 386.5,964.3 388.5,965.1 390.5,966.0 392.5,966.8 394.5,967.7 396.5,968.5 398.5,969.4 400.5,970.2 402.5,971.1 404.5,971.9 406.5,972.7 408.5,973.6 410.5,974.4 412.5,975.2 414.5,976.0 416.5,976.9 418.5,977.7 420.5,978.5 422.5,979.3 424.5,980.1 426.5,980.9 428.5,981.7 430.5,982.5 432.5,983.3 434.5,984.1 436.5,984.9 438.5,985.7 440.5,986.5 442.5,987.3 444.5,988.0 446.5,988.8 448.5,989.6 450.5,990.4 452.5,991.2 454.5,991.9 456.5,992.7 458.5,993.5 460.5,994.2 462.5,995.0 464.5,995.7 466.5,996.5 468.5,997.2 470.5,997.9 472.5,998.7 474.5,999.4 476.5,1000.1 478.5,1000.8 480.5,1001.5 482.5,1002.2 484.5,1002.9 486.5,1003.6 488.5,1004.3 490.5,1005.0 492.5,1005.7 494.5,1006.3 496.5,1007.0 498.5,1007.7 500.5,1008.3 502.5,1009.0 504.5,1009.6 506.5,1010.3 508.5,1010.9 510.5,1011.6 512.5,1012.2 514.5,1012.9 516.5,1013.5 518.5,1014.1 520.5,1014.7 522.5,1015.3 524.5,1016.0 526.5,1016.6 528.5,1017.2 530.5,1017.8 532.5,1018.4 534.5,1019.0 536.5,1019.6 538.5,1020.2 540.5,1020.8 542.5,1021.3 544.5,1021.9 546.5,1022.5 548.5,1023.1 550.5,1023.6 552.5,1024.2 554.5,1024.8 556.5,1025.3 558.5,1025.9 560.5,1026.4 562.5,1026.9 564.5,1027.5 566.5,1028.0 568.5,1028.5 570.5,1029.0 572.5,1029.6 574.5,1030.1 576.5,1030.6 578.5,1031.1 580.5,1031.6 582.5,1032.2 584.5,1032.7 586.5,1033.2 588.5,1033.7 590.5,1034.1 592.5,1034.6 594.5,1035.1 596.5,1035.6 598.5,1036.0 600.5,1036.5 602.5,1036.9 604.5,1037.4 606.5,1037.8 608.5,1038.2 610.5,1038.6 612.5,1039.0 614.5,1039.4 616.5,1039.8 618.5,1040.1 620.5,1040.5 622.5,1040.9 624.5,1041.2 626.5,1041.6 628.5,1041.9 630.5,1042.3 632.5,1042.6 634.5,1042.9 636.5,1043.3 638.5,1043.6 640.5,1043.9 642.5,1044.2 644.5,1044.5 646.5,1044.9 648.5,1045.2 650.5,1045.5 652.5,1045.8 654.5,1046.1 656.5,1046.4 658.5,1046.7 660.5,1047.0 662.5,1047.3 664.5,1047.6 666.5,1047.9 668.5,1048.2 670.5,1048.5 672.5,1048.7 674.5,1049.0 676.5,1049.3 678.5,1049.6 680.5,1049.9 682.5,1050.1 684.5,1050.4 686.5,1050.6 688.5,1050.9 690.5,1051.1 692.5,1051.4 694.5,1051.6 696.5,1051.8 698.5,1052.1 700.5,1052.3 702.5,1052.5 704.5,1052.7 706.5,1052.9 708.5,1053.1 710.5,1053.2 712.5,1053.4 714.5,1053.6 716.5,1053.8 718.5,1054.0 720.5,1054.1 722.5,1054.3 724.5,1054.5 726.5,1054.6 728.5,1054.8 730.5,1055.0 732.5,1055.2 734.5,1055.3 736.5,1055.5 738.5,1055.7 740.5,1055.9 742.5,1056.0 744.5,1056.2 746.5,1056.4 748.5,1056.6 750.5,1056.9 752.5,1057.1 754.5,1057.3 756.5,1057.5 758.5,1057.7 760.5,1057.9 762.5,1058.2 764.5,1058.4 766.5,1058.6 768.5,1058.8 770.5,1059.0 772.5,1059.2 774.5,1059.4 776.5,1059.5 778.5,1059.7 780.5,1059.8 782.5,1060.0 784.5,1060.1 786.5,1060.2 788.5,1060.3 790.5,1060.4 792.5,1060.5 794.5,1060.6 796.5,1060.7 798.5,1060.8 800.5,1060.9 802.5,1061.0 804.5,1061.1 806.5,1061.2 808.5,1061.3 810.5,1061.3 812.5,1061.4 814.5,1061.5 816.5,1061.6 818.5,1061.6 820.5,1061.7 822.5,1061.8 824.5,1061.8 826.5,1061.9 828.5,1062.0 830.5,1062.0 832.5,1062.1 834.5,1062.2 836.5,1062.2 838.5,1062.3 840.5,1062.3 842.5,1062.4 844.5,1062.5 846.5,1062.5 848.5,1062.6 850.5,1062.6 852.5,1062.7 854.5,1062.7 856.5,1062.8 858.5,1062.8 860.5,1062.9 862.5,1062.9 864.5,1063.0 866.5,1063.0 868.5,1063.1 870.5,1063.1 872.5,1063.2 874.5,1063.2 876.5,1063.2 878.5,1063.3 880.5,1063.3 882.5,1063.4 884.5,1063.4 886.5,1063.5 888.5,1063.5 890.5,1063.5 892.5,1063.6 894.5,1063.6 896.5,1063.6 898.5,1063.7 900.5,1063.7 902.5,1063.7 904.5,1063.8 906.5,1063.8 908.5,1063.8 910.5,1063.9 912.5,1063.9 914.5,1063.9 916.5,1064.0 918.5,1064.0 920.5,1064.0 922.5,1064.0 924.5,1064.1 926.5,1064.1 928.5,1064.1 930.5,1064.1 932.5,1064.1 934.5,1064.2 936.5,1064.2 938.5,1064.2 940.5,1064.2 942.5,1064.2 944.5,1064.3 946.5,1064.3 948.5,1064.3 950.5,1064.3 952.5,1064.3 954.5,1064.3 956.5,1064.4 958.5,1064.4 960.5,1064.4 962.5,1064.4 964.5,1064.4 966.5,1064.4 968.5,1064.5 970.5,1064.5 972.5,1064.5 974.5,1064.5 976.5,1064.5 978.5,1064.5 980.5,1064.6 982.5,1064.6 984.5,1064.6 986.5,1064.6 988.5,1064.6 990.5,1064.6 992.5,1064.7 994.5,1064.7 996.5,1064.7 998.5,1064.7 1000.5,1064.7 1002.5,1064.7 1004.5,1064.8 1006.5,1064.8 1008.5,1064.8 1010.5,1064.8 1012.5,1064.8 1014.5,1064.8 1016.5,1064.8 1018.5,1064.9 1020.5,1064.9 1022.5,1064.9 1024.5,1064.9 1026.5,1064.9 1028.5,1064.9 1030.5,1064.9 1032.5,1064.9 1034.5,1065.0 1036.5,1065.0 1038.5,1065.0 1040.5,1065.0 1042.5,1065.0 1044.5,1065.0 1046.5,1065.0 1048.5,1065.0 1050.5,1065.0 1052.5,1065.1 1054.5,1065.1 1056.5,1065.1 1058.5,1065.1 1060.5,1065.1 1062.5,1065.1 1064.5,1065.1 1066.5,1065.1 1068.5,1065.1 1070.5,1065.1 1072.5,1065.2 1074.5,1065.2 1076.5,1065.2 1078.5,1065.2 1080.5,1065.2 1082.5,1065.2 1084.5,1065.2 1086.5,1065.2 1088.5,1065.2 1090.5,1065.3 1092.5,1065.3 1094.5,1065.3 1096.5,1065.3 1098.5,1065.3 1100.5,1065.3 1102.5,1065.3 1104.5,1065.4 1106.5,1065.4 1108.5,1065.4 1110.5,1065.4 1112.5,1065.4 1114.5,1065.4 1116.5,1065.4 1118.5,1065.4 1120.5,1065.5 1122.5,1065.5 1124.5,1065.5 1126.5,1065.5 1128.5,1065.5 1130.5,1065.5 1132.5,1065.5 1134.5,1065.5 1136.5,1065.6 1138.5,1065.6 1140.5,1065.6 1142.5,1065.6 1144.5,1065.6 1146.5,1065.6 1148.5,1065.6 1150.5,1065.6 1152.5,1065.7 1154.5,1065.7 1156.5,1065.7 1158.5,1065.7 1160.5,1065.7 1162.5,1065.7 1164.5,1065.7 1166.5,1065.7 1168.5,1065.7 1170.5,1065.7 1172.5,1065.8 1174.5,1065.8 1176.5,1065.8 1178.5,1065.8 1180.5,1065.8 1182.5,1065.8 1184.5,1065.8 1186.5,1065.8 1188.5,1065.8 1190.5,1065.8 1192.5,1065.8 1194.5,1065.8 1196.5,1065.8 1198.5,1065.8 1200.5,1065.8 1202.5,1065.8 1204.5,1065.9 1206.5,1065.9 1208.5,1065.9 1210.5,1065.9 1212.5,1065.9 1214.5,1065.9 1216.5,1065.9 1218.5,1065.9 1220.5,1065.9 1222.5,1065.9 1224.5,1065.9 1226.5,1065.9 1228.5,1065.9 1230.5,1065.9 1232.5,1065.9 1234.5,1065.9 1236.5,1065.9 1238.5,1065.9 1240.5,1065.9 1242.5,1065.9 1244.5,1065.9 1246.5,1066.0 1248.5,1066.0 1250.5,1066.0 1252.5,1066.0 1254.5,1066.0 1256.5,1066.0 1258.5,1066.0 1260.5,1066.0 1262.5,1066.0 1264.5,1066.0 1266.5,1066.0 1268.5,1066.0 1270.5,1066.0 1272.5,1066.0 1274.5,1066.0 1276.5,1066.0 1278.5,1066.0 1280.5,1066.0 1282.5,1066.0 1284.5,1066.0 1286.5,1066.0 1288.5,1066.0 1290.5,1066.0 1292.5,1066.0 1294.5,1066.0 1296.5,1066.0 1298.5,1066.0 1300.5,1066.0 1302.5,1066.0 1304.5,1066.0 1306.5,1066.0 1308.5,1066.0 1310.5,1066.0 1312.5,1066.0 1314.5,1066.0 1316.5,1066.0 1318.5,1066.0 1320.5,1066.0 1322.5,1066.0 1324.5,1066.0 1326.5,1066.0 1328.5,1066.0 1330.5,1066.0 1332.5,1066.0 1334.5,1066.0 1336.5,1066.0 1338.5,1066.0 1340.5,1066.0 1342.5,1066.0 1344.5,1066.0 1346.5,1066.0 1348.5,1066.0 1350.5,1066.0 1352.5,1066.0 1354.5,1066.0 1356.5,1066.0 1358.5,1066.0 1360.5,1066.0 1362.5,1066.0 1364.5,1066.0 1366.5,1066.0 1368.5,1066.0 1370.5,1066.0 1372.5,1066.0 1374.5,1066.0 1376.5,1066.0 1378.5,1066.0 1380.5,1066.0 1382.5,1066.0 1384.5,1066.0 1386.5,1066.0 1388.5,1066.0 1390.5,1066.0 1392.5,1066.0 1394.5,1066.0 1396.5,1066.0 1398.5,1066.0"/></g></g>
<g class="sans" font-size="57.5" fill="#000"><text x="89.6" y="1082.3" text-anchor="end">0.0</text><text x="89.6" y="851.4" text-anchor="end">0.2</text><text x="89.6" y="620.5" text-anchor="end">0.4</text><text x="89.6" y="389.6" text-anchor="end">0.6</text><text x="89.6" y="158.7" text-anchor="end">0.8</text><text x="119.5" y="1142.5" text-anchor="middle">0</text><text x="332.6" y="1142.5" text-anchor="middle">1</text><text x="545.8" y="1142.5" text-anchor="middle">2</text><text x="758.9" y="1142.5" text-anchor="middle">3</text><text x="972.0" y="1142.5" text-anchor="middle">4</text><text x="1185.2" y="1142.5" text-anchor="middle">5</text><text x="1398.3" y="1142.5" text-anchor="middle">6</text></g>
<text class="serif" font-size="50" fill="#000" stroke="#000" stroke-width="1.1" transform="translate(853,1130) scale(1.1,1)">&#951;</text>
<!-- legend -->
<line x1="759.5" y1="56.8" x2="871" y2="56.8" stroke="#000" stroke-width="4.7"/>
<line x1="759.5" y1="114.5" x2="871" y2="114.5" stroke="#000" stroke-width="4.7" stroke-dasharray="22.5 21.5"/>
<g class="serif" font-weight="bold" font-size="49.5" fill="#000">
<text x="881" y="72.7" textLength="491.7" lengthAdjust="spacingAndGlyphs">Sliver capped ironoxide</text>
<text x="881" y="130" textLength="423.4" lengthAdjust="spacingAndGlyphs">Sliver Nanoparticles</text>
</g>
<g class="serif" font-weight="bold" font-style="italic" font-size="48" fill="#000">
<text x="408" y="220.5" textLength="689" lengthAdjust="spacingAndGlyphs">K<tspan font-size="28" dy="19">p</tspan><tspan dy="-19"> = 0.5, Da = 0.6, </tspan><tspan font-weight="normal">&#958;</tspan> = 0.4, <tspan font-weight="normal">&#981;</tspan> = 0.01</text>
<text x="422" y="283.6">R = 0.5, Bi = 0.5, <tspan font-weight="normal">&#955;</tspan> = 0.5, Q = 0.5</text>
</g>
<rect x="668.5" y="753.8" width="449.5" height="76.5" fill="#fff" stroke="#000" stroke-width="2.2"/>
<text class="serif" x="699" y="810" font-size="54" font-weight="bold" font-style="italic" fill="#000" textLength="398.6" lengthAdjust="spacingAndGlyphs">Pr = 38, 39, 40, 41</text>
<!-- arrow -->
<line x1="640.2" y1="835.6" x2="512" y2="1032" stroke="#000" stroke-width="2.2"/>
<polygon points="505.8,1041.8 511.2,1024.2 519.8,1029.8" fill="#000"/>
<g class="serif" font-style="italic" fill="#000">
<text font-size="56" transform="translate(57,548) rotate(-90) scale(1.22,1)">&#952;</text>
<text font-size="61" transform="translate(57.8,544.3) rotate(-90)" x="38.5">(</text>
<text font-size="56" stroke="#000" stroke-width="0.9" transform="translate(58,544.3) rotate(-90)" x="63.5">&#951;</text>
<text font-size="61" transform="translate(57.8,544.3) rotate(-90)" x="88.5">)</text>
</g>
</svg>
</body></html>
